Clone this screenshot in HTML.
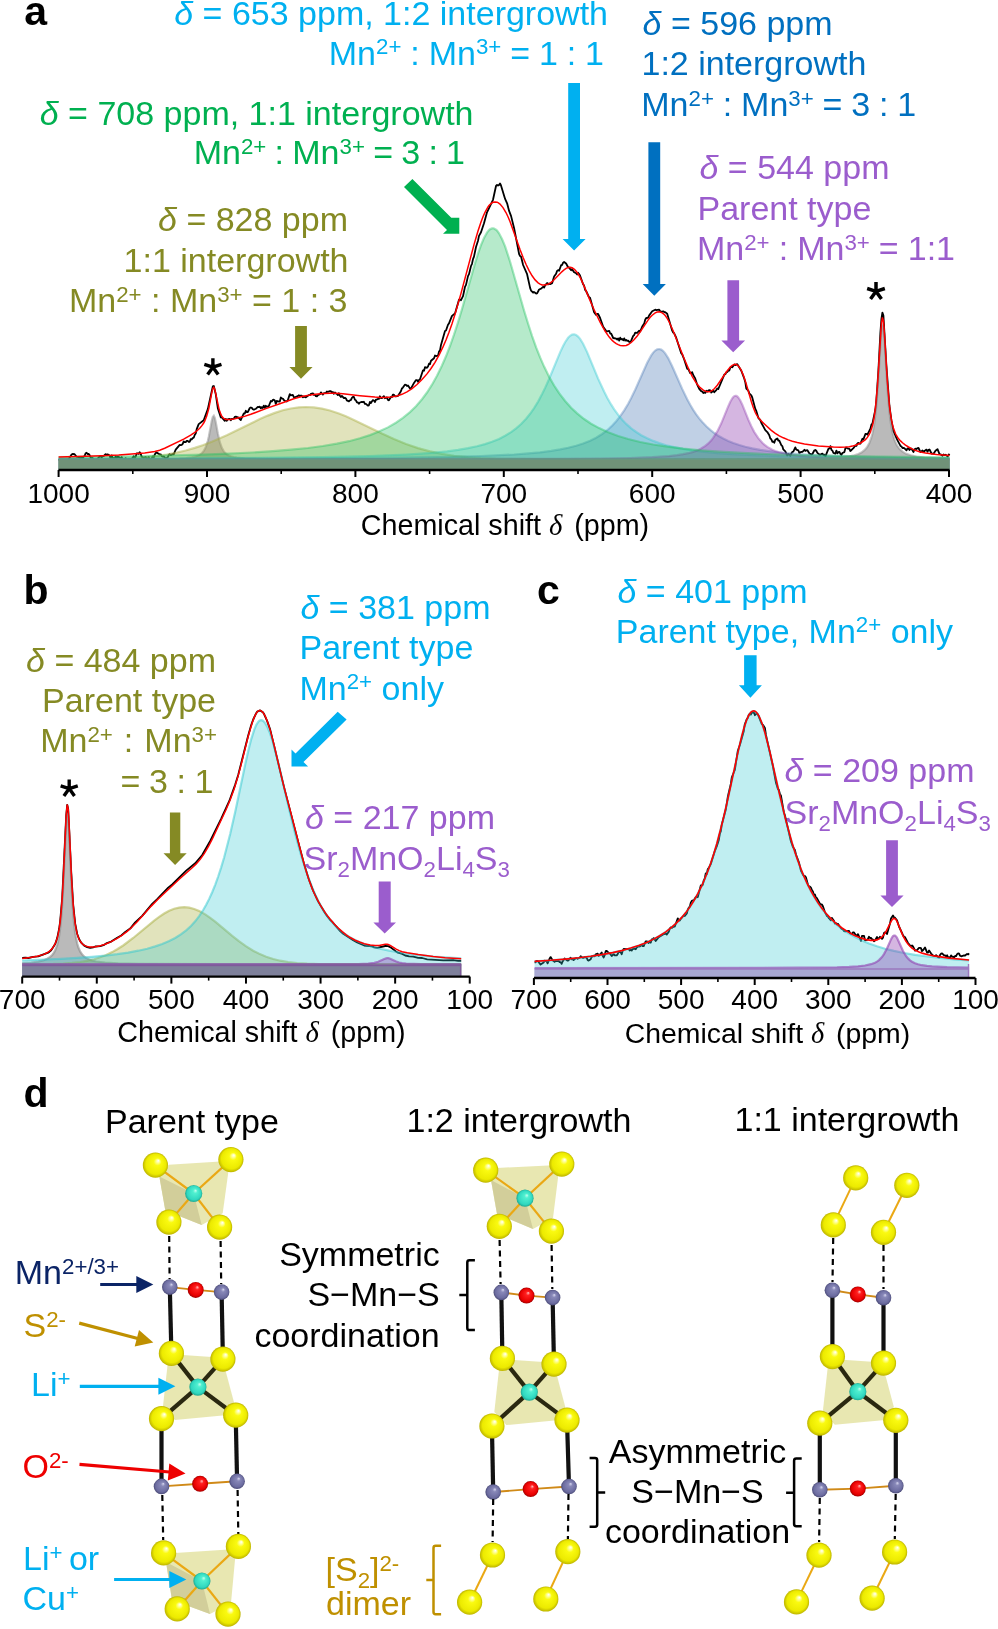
<!DOCTYPE html>
<html><head><meta charset="utf-8"><style>
html,body{margin:0;padding:0;background:#fff;}
svg{display:block;font-family:"Liberation Sans", sans-serif;will-change:transform;}
</style></head><body>
<svg width="998" height="1629" viewBox="0 0 998 1629">
<defs>
<radialGradient id="gS" cx="0.5" cy="0.5" r="0.5" fx="0.62" fy="0.32">
 <stop offset="0" stop-color="#ffffff"/><stop offset="0.12" stop-color="#ffffa0"/><stop offset="0.3" stop-color="#fafa10"/><stop offset="0.8" stop-color="#ecea00"/><stop offset="1" stop-color="#bdb400"/></radialGradient>
<radialGradient id="gLi" cx="0.5" cy="0.5" r="0.5" fx="0.62" fy="0.32">
 <stop offset="0" stop-color="#c8fff0"/><stop offset="0.25" stop-color="#50f0d0"/><stop offset="0.8" stop-color="#30d8c0"/><stop offset="1" stop-color="#20a890"/></radialGradient>
<radialGradient id="gMn" cx="0.5" cy="0.5" r="0.5" fx="0.62" fy="0.32">
 <stop offset="0" stop-color="#d8d8f0"/><stop offset="0.25" stop-color="#8888b8"/><stop offset="0.8" stop-color="#6c6ca0"/><stop offset="1" stop-color="#4c4c78"/></radialGradient>
<radialGradient id="gO" cx="0.5" cy="0.5" r="0.5" fx="0.62" fy="0.32">
 <stop offset="0" stop-color="#ffc0c0"/><stop offset="0.25" stop-color="#ff2020"/><stop offset="0.8" stop-color="#e80000"/><stop offset="1" stop-color="#a00000"/></radialGradient>
</defs>
<text x="24.2" y="24.5" font-size="41" fill="#000" text-anchor="start" font-weight="bold" ><tspan dy="-0.00">a</tspan></text>
<text x="608.0" y="24.8" font-size="34" fill="#00b0f0" text-anchor="end" font-weight="normal" ><tspan dy="-0.00" font-style="italic">δ</tspan><tspan dy="0.00"> = 653 ppm, 1:2 intergrowth</tspan></text>
<text x="604.0" y="64.6" font-size="34" fill="#00b0f0" text-anchor="end" font-weight="normal" word-spacing="-0.55"><tspan dy="-0.00">Mn</tspan><tspan dy="-10.20" font-size="22.27">2+</tspan><tspan dy="10.20"> : Mn</tspan><tspan dy="-10.20" font-size="22.27">3+</tspan><tspan dy="10.20"> = 1 : 1</tspan></text>
<text x="642.6" y="34.6" font-size="34" fill="#0070c0" text-anchor="start" font-weight="normal" ><tspan dy="-0.00" font-style="italic">δ</tspan><tspan dy="0.00"> = 596 ppm</tspan></text>
<text x="641.5" y="74.8" font-size="34" fill="#0070c0" text-anchor="start" font-weight="normal" ><tspan dy="-0.00">1:2 intergrowth</tspan></text>
<text x="641.3" y="115.8" font-size="34" fill="#0070c0" text-anchor="start" font-weight="normal" word-spacing="-0.6"><tspan dy="-0.00">Mn</tspan><tspan dy="-10.20" font-size="22.27">2+</tspan><tspan dy="10.20"> : Mn</tspan><tspan dy="-10.20" font-size="22.27">3+</tspan><tspan dy="10.20"> = 3 : 1</tspan></text>
<text x="473.5" y="124.6" font-size="34" fill="#00b050" text-anchor="end" font-weight="normal" ><tspan dy="-0.00" font-style="italic">δ</tspan><tspan dy="0.00"> = 708 ppm, 1:1 intergrowth</tspan></text>
<text x="465.0" y="163.8" font-size="34" fill="#00b050" text-anchor="end" font-weight="normal" word-spacing="-1.2"><tspan dy="-0.00">Mn</tspan><tspan dy="-10.20" font-size="22.27">2+</tspan><tspan dy="10.20"> : Mn</tspan><tspan dy="-10.20" font-size="22.27">3+</tspan><tspan dy="10.20"> = 3 : 1</tspan></text>
<text x="699.5" y="179.0" font-size="34" fill="#9b5dcd" text-anchor="start" font-weight="normal" ><tspan dy="-0.00" font-style="italic">δ</tspan><tspan dy="0.00"> = 544 ppm</tspan></text>
<text x="697.5" y="219.7" font-size="34" fill="#9b5dcd" text-anchor="start" font-weight="normal" ><tspan dy="-0.00">Parent type</tspan></text>
<text x="697.0" y="260.2" font-size="34" fill="#9b5dcd" text-anchor="start" font-weight="normal" word-spacing="-0.4"><tspan dy="-0.00">Mn</tspan><tspan dy="-10.20" font-size="22.27">2+</tspan><tspan dy="10.20"> : Mn</tspan><tspan dy="-10.20" font-size="22.27">3+</tspan><tspan dy="10.20"> = 1:1</tspan></text>
<text x="348.0" y="230.6" font-size="34" fill="#858a24" text-anchor="end" font-weight="normal" ><tspan dy="-0.00" font-style="italic">δ</tspan><tspan dy="0.00"> = 828 ppm</tspan></text>
<text x="348.5" y="271.8" font-size="34" fill="#858a24" text-anchor="end" font-weight="normal" ><tspan dy="-0.00">1:1 intergrowth</tspan></text>
<text x="347.5" y="311.7" font-size="34" fill="#858a24" text-anchor="end" font-weight="normal" ><tspan dy="-0.00">Mn</tspan><tspan dy="-10.20" font-size="22.27">2+</tspan><tspan dy="10.20"> : Mn</tspan><tspan dy="-10.20" font-size="22.27">3+</tspan><tspan dy="10.20"> = 1 : 3</tspan></text>
<polygon points="404.0,186.9 412.4,178.9 451.3,217.8 459.3,217.7 459.3,233.8 443.0,233.8 447.0,229.9" fill="#00b050" />
<polygon points="568.2,83.0 580.0,83.0 580.0,238.9 585.6,238.9 574.1,250.6 562.6,238.9 568.2,238.9" fill="#00b0f0" />
<polygon points="648.4,142.3 660.2,142.3 660.2,284.0 665.9,284.0 654.3,295.8 642.7,284.0 648.4,284.0" fill="#0070c0" />
<polygon points="727.4,280.2 739.1,280.2 739.1,340.4 745.1,340.4 733.2,352.2 721.4,340.4 727.4,340.4" fill="#9b5dcd" />
<polygon points="295.1,325.9 306.9,325.9 306.9,367.1 312.6,367.1 301.0,378.8 289.4,367.1 295.1,367.1" fill="#858a24" />
<path d="M58.6,460.1 L59.6,459.7 L61.6,461.3 L62.6,460.3 L64.6,462.5 L65.6,460.7 L66.6,461.1 L68.6,459.2 L71.6,454.5 L72.6,453.9 L74.6,454.2 L76.6,456.7 L79.6,457.5 L80.6,458.5 L81.6,457.6 L82.6,458.5 L83.6,456.7 L84.6,456.0 L85.6,453.2 L86.6,452.7 L87.6,454.1 L88.6,453.9 L89.6,455.1 L90.6,457.5 L91.6,458.5 L92.6,457.9 L93.6,460.5 L94.6,460.7 L96.6,459.9 L99.6,456.5 L100.6,456.0 L101.6,457.5 L102.6,456.3 L103.6,456.2 L105.6,454.1 L106.6,454.9 L107.6,454.4 L109.7,455.5 L110.7,459.0 L111.7,455.3 L112.7,458.6 L113.7,458.2 L114.7,458.5 L115.7,456.3 L116.7,458.7 L117.7,456.6 L119.7,457.6 L120.7,460.0 L121.7,457.1 L122.7,459.5 L123.7,460.5 L125.7,458.2 L126.7,459.9 L127.7,460.0 L128.7,459.3 L129.7,459.4 L130.7,458.9 L131.7,459.1 L133.7,456.2 L134.7,458.3 L135.7,456.6 L136.7,453.4 L137.7,453.3 L138.7,453.9 L139.7,452.3 L140.7,453.8 L141.7,456.9 L142.7,457.2 L143.7,458.2 L144.7,457.3 L145.7,457.0 L146.7,458.9 L147.7,458.9 L148.7,457.0 L149.7,459.4 L150.7,460.4 L152.7,456.4 L153.7,457.6 L154.7,454.7 L155.7,453.1 L156.7,452.5 L159.7,454.6 L160.7,454.3 L161.7,456.1 L162.7,456.6 L163.7,456.3 L165.7,458.7 L167.7,457.3 L168.7,455.1 L169.7,454.1 L170.7,455.1 L172.7,454.1 L173.7,454.3 L175.7,449.6 L179.7,444.8 L180.7,445.2 L181.7,444.9 L182.7,443.9 L183.7,441.4 L184.7,442.2 L185.7,442.2 L186.7,440.8 L187.7,440.8 L188.7,441.8 L189.7,441.8 L190.7,439.1 L191.7,439.5 L192.7,438.1 L193.7,437.7 L194.7,435.0 L195.7,433.6 L196.7,429.2 L198.7,424.1 L203.7,420.2 L207.8,409.1 L212.8,386.4 L213.8,386.0 L215.8,394.4 L217.8,408.1 L220.8,417.4 L221.8,417.3 L224.8,420.8 L225.8,418.9 L226.8,420.7 L227.8,419.4 L228.8,419.0 L229.8,418.9 L230.8,420.2 L231.8,418.9 L233.8,418.7 L234.8,416.8 L235.8,416.6 L236.8,417.3 L237.8,417.1 L240.8,420.0 L243.8,413.4 L244.8,413.5 L245.8,410.8 L246.8,412.2 L247.8,412.0 L249.8,408.0 L250.8,407.5 L251.8,407.9 L252.8,409.2 L253.8,409.7 L255.8,408.8 L257.8,406.8 L258.8,407.2 L259.8,406.6 L260.8,408.4 L261.8,407.1 L262.8,408.0 L263.8,405.7 L264.8,407.8 L265.8,405.8 L266.8,406.8 L268.8,406.1 L270.8,401.0 L271.8,401.5 L272.8,399.9 L273.8,399.7 L274.8,400.4 L275.8,403.9 L276.8,400.8 L277.8,401.4 L279.8,401.5 L280.8,397.5 L281.8,398.4 L282.8,398.6 L283.8,400.1 L284.8,400.8 L286.8,401.5 L287.8,400.3 L289.8,394.1 L290.8,395.3 L292.8,394.9 L293.8,397.1 L294.8,397.3 L297.8,396.2 L298.8,395.3 L299.8,396.1 L300.8,395.6 L301.8,395.7 L302.8,397.4 L303.8,396.5 L305.8,397.4 L307.9,395.7 L308.9,395.1 L309.9,395.2 L310.9,393.9 L312.9,393.3 L313.9,394.9 L314.9,394.6 L315.9,396.2 L316.9,396.4 L317.9,395.2 L319.9,394.2 L320.9,392.4 L322.9,394.6 L323.9,393.2 L325.9,393.1 L326.9,391.5 L327.9,391.8 L329.9,391.1 L330.9,391.2 L331.9,392.9 L332.9,392.0 L333.9,393.8 L334.9,392.5 L335.9,393.5 L336.9,393.9 L337.9,395.1 L338.9,393.3 L339.9,395.7 L340.9,397.0 L341.9,395.9 L343.9,398.2 L344.9,397.7 L345.9,398.4 L346.9,400.5 L348.9,401.4 L349.9,400.3 L350.9,400.0 L351.9,397.9 L352.9,396.9 L353.9,397.0 L354.9,399.8 L355.9,400.3 L356.9,402.3 L357.9,402.5 L358.9,403.8 L359.9,402.5 L361.9,401.8 L362.9,402.2 L363.9,401.8 L364.9,403.8 L365.9,403.8 L367.9,405.7 L368.9,405.3 L369.9,402.0 L370.9,403.0 L372.9,400.1 L373.9,400.5 L374.9,402.1 L375.9,399.6 L376.9,399.6 L377.9,398.9 L378.9,398.9 L379.9,396.3 L380.9,398.0 L381.9,398.2 L383.9,396.1 L384.9,398.2 L386.9,397.4 L387.9,400.0 L388.9,400.3 L390.9,397.0 L391.9,397.1 L392.9,394.6 L393.9,394.7 L394.9,396.0 L395.9,396.5 L397.9,396.0 L400.9,391.3 L401.9,388.5 L402.9,387.6 L404.9,384.7 L406.0,384.8 L407.0,386.0 L408.0,385.4 L410.0,388.4 L411.0,388.4 L414.0,382.9 L416.0,380.1 L417.0,380.1 L418.0,381.7 L419.0,379.9 L420.0,379.3 L423.0,370.3 L424.0,370.7 L425.0,367.2 L427.0,367.8 L428.0,366.5 L429.0,363.7 L430.0,364.1 L431.0,360.8 L434.0,358.2 L435.0,355.5 L436.0,356.1 L438.0,355.7 L439.0,351.6 L440.0,350.3 L441.0,344.9 L445.0,331.0 L446.0,330.5 L448.0,324.7 L449.0,323.4 L452.0,315.9 L455.0,313.5 L459.0,299.7 L460.0,299.6 L461.0,300.2 L463.0,296.2 L465.0,286.8 L466.0,284.9 L468.0,276.1 L469.0,274.2 L471.0,266.0 L472.0,263.8 L473.0,259.1 L474.0,256.6 L476.0,247.0 L478.0,240.8 L479.0,235.9 L481.0,232.3 L484.0,223.3 L487.0,212.3 L493.0,199.8 L496.0,186.0 L497.0,185.0 L498.0,185.6 L499.0,184.9 L500.0,183.4 L501.0,185.5 L505.1,198.9 L507.1,203.3 L509.1,210.9 L511.1,216.1 L514.1,228.2 L519.1,254.0 L520.1,256.1 L521.1,256.7 L523.1,265.0 L527.1,274.2 L530.1,287.9 L531.1,290.7 L533.1,292.7 L534.1,292.1 L536.1,293.5 L537.1,293.3 L539.1,289.5 L541.1,288.7 L543.1,286.8 L544.1,287.6 L545.1,285.3 L547.1,283.0 L548.1,284.4 L549.1,283.4 L550.1,284.2 L552.1,283.2 L554.1,276.5 L556.1,273.7 L557.1,270.9 L558.1,270.1 L559.1,270.7 L561.1,265.2 L562.1,265.0 L563.1,262.7 L564.1,262.0 L566.1,263.5 L568.1,267.2 L569.1,267.6 L571.1,270.2 L572.1,269.2 L574.1,272.3 L576.1,273.2 L577.1,274.5 L578.1,272.8 L579.1,274.0 L580.1,275.8 L583.1,284.2 L584.1,285.6 L585.1,289.8 L586.1,291.0 L589.1,297.4 L590.1,297.9 L594.1,312.3 L596.1,314.9 L597.1,313.8 L598.1,313.8 L600.1,318.0 L603.2,326.8 L606.2,331.1 L607.2,331.4 L609.2,330.9 L610.2,333.5 L611.2,333.7 L613.2,338.0 L616.2,338.7 L617.2,339.6 L618.2,338.4 L619.2,340.6 L620.2,337.7 L621.2,339.4 L622.2,339.0 L623.2,340.2 L624.2,338.4 L625.2,340.6 L626.2,339.9 L627.2,340.9 L628.2,340.7 L629.2,341.9 L630.2,342.0 L631.2,340.7 L633.2,335.9 L634.2,335.0 L635.2,332.6 L637.2,332.8 L639.2,330.7 L640.2,331.5 L642.2,326.5 L644.2,323.6 L645.2,319.7 L646.2,318.0 L647.2,318.1 L648.2,317.5 L649.2,315.4 L652.2,311.3 L655.2,309.7 L656.2,310.1 L659.2,309.7 L660.2,311.3 L662.2,311.6 L663.2,311.3 L664.2,312.0 L665.2,312.1 L667.2,313.7 L672.2,330.7 L673.2,332.6 L674.2,333.3 L676.2,337.7 L681.2,353.2 L682.2,354.4 L684.2,359.5 L687.2,368.8 L688.2,368.9 L690.2,373.2 L691.2,373.2 L692.2,372.2 L693.2,375.0 L695.2,378.4 L697.2,384.7 L699.2,388.8 L701.2,391.2 L702.3,391.6 L703.3,393.1 L704.3,392.2 L705.3,392.9 L706.3,390.8 L707.3,391.6 L708.3,390.5 L709.3,390.1 L710.3,390.4 L711.3,392.5 L713.3,390.7 L714.3,392.2 L716.3,390.1 L717.3,388.5 L718.3,389.0 L724.3,374.6 L725.3,374.2 L726.3,372.4 L727.3,372.0 L728.3,370.5 L729.3,370.5 L730.3,367.6 L731.3,367.0 L732.3,367.3 L734.3,364.4 L735.3,365.1 L737.3,364.1 L741.3,370.8 L744.3,378.8 L745.3,382.2 L746.3,388.7 L748.3,390.6 L749.3,393.4 L751.3,395.3 L752.3,397.7 L755.3,408.9 L756.3,410.9 L758.3,417.8 L760.3,420.1 L761.3,422.8 L765.3,430.1 L767.3,432.1 L769.3,435.3 L770.3,438.5 L771.3,439.2 L772.3,441.8 L773.3,441.5 L774.3,442.8 L775.3,439.8 L777.3,438.4 L778.3,440.5 L779.3,440.7 L781.3,445.2 L782.3,446.1 L783.3,449.4 L785.3,451.3 L787.3,455.5 L788.3,454.2 L789.3,454.5 L790.3,456.0 L791.3,453.4 L792.3,451.9 L793.3,451.7 L795.3,447.4 L796.3,449.6 L798.3,450.3 L799.3,452.9 L801.4,451.9 L802.4,451.8 L804.4,449.8 L805.4,450.9 L806.4,450.3 L807.4,450.2 L809.4,453.5 L811.4,454.4 L812.4,454.0 L814.4,450.3 L815.4,450.0 L816.4,451.0 L817.4,452.9 L819.4,454.5 L820.4,454.6 L822.4,453.6 L823.4,455.0 L824.4,454.7 L825.4,456.4 L828.4,448.9 L829.4,448.4 L830.4,446.1 L831.4,449.8 L832.4,450.7 L833.4,452.9 L835.4,453.6 L836.4,450.6 L837.4,453.3 L838.4,452.2 L839.4,451.9 L840.4,453.9 L841.4,454.9 L842.4,453.0 L844.4,452.1 L845.4,448.3 L846.4,447.6 L847.4,448.4 L849.4,448.9 L850.4,451.0 L853.4,448.1 L855.4,445.5 L856.4,445.9 L857.4,443.4 L858.4,442.8 L859.4,443.7 L860.4,443.6 L862.4,438.8 L863.4,439.4 L865.4,434.0 L866.4,433.8 L867.4,434.7 L870.4,428.6 L871.4,424.7 L872.4,423.6 L875.4,409.5 L876.4,400.1 L878.4,370.5 L880.4,332.6 L881.4,319.2 L882.4,312.6 L883.4,315.6 L886.4,365.9 L889.4,405.7 L891.4,420.4 L893.4,431.1 L897.4,440.1 L900.5,445.9 L901.5,446.6 L902.5,448.0 L903.5,447.8 L904.5,448.3 L906.5,450.4 L907.5,448.3 L908.5,448.4 L909.5,450.0 L910.5,448.6 L911.5,448.7 L913.5,452.0 L914.5,449.2 L915.5,448.7 L916.5,449.0 L917.5,448.1 L918.5,448.0 L920.5,452.1 L922.5,450.5 L923.5,451.8 L926.5,449.6 L927.5,451.8 L928.5,449.8 L929.5,449.5 L931.5,453.5 L933.5,453.7 L935.5,450.7 L937.5,449.1 L939.5,454.2 L940.5,454.3 L942.5,455.7 L943.5,454.5 L944.5,455.2 L945.5,454.7 L946.5,455.2 L947.5,456.5 L949.5,453.9" fill="none" stroke="#000" stroke-width="1.8" stroke-linejoin="round"/>
<path d="M58.6,459.3 L134.7,459.1 L168.7,458.8 L178.7,458.5 L185.7,458.1 L191.7,457.4 L195.7,456.4 L198.7,455.3 L201.7,453.3 L203.7,451.0 L205.7,447.2 L207.8,441.0 L208.8,436.8 L211.8,420.8 L212.8,416.9 L213.8,415.7 L214.8,417.9 L215.8,422.4 L217.8,433.4 L219.8,442.2 L221.8,447.9 L223.8,451.4 L224.8,452.6 L226.8,454.3 L228.8,455.4 L230.8,456.2 L233.8,457.0 L236.8,457.6 L244.8,458.3 L254.8,458.7 L268.8,459.0 L325.9,459.2 L949.5,459.3 L949.50,470.00 L58.60,470.00 Z" fill="#8c8c8c" fill-opacity="0.6" stroke="none"/>
<path d="M58.6,459.3 L134.7,459.1 L168.7,458.8 L178.7,458.5 L185.7,458.1 L191.7,457.4 L195.7,456.4 L198.7,455.3 L201.7,453.3 L203.7,451.0 L205.7,447.2 L207.8,441.0 L208.8,436.8 L211.8,420.8 L212.8,416.9 L213.8,415.7 L214.8,417.9 L215.8,422.4 L217.8,433.4 L219.8,442.2 L221.8,447.9 L223.8,451.4 L224.8,452.6 L226.8,454.3 L228.8,455.4 L230.8,456.2 L233.8,457.0 L236.8,457.6 L244.8,458.3 L254.8,458.7 L268.8,459.0 L325.9,459.2 L949.5,459.3" fill="none" stroke="#8c8c8c" stroke-opacity="0.5" stroke-width="2.2"/>
<path d="M58.6,459.3 L104.6,458.9 L120.7,458.5 L133.7,458.0 L145.7,457.1 L156.7,455.9 L166.7,454.5 L176.7,452.6 L185.7,450.5 L194.7,447.9 L202.7,445.2 L211.8,441.8 L226.8,435.2 L259.8,419.1 L267.8,415.6 L274.8,412.9 L282.8,410.3 L290.8,408.5 L298.8,407.3 L305.8,407.0 L313.9,407.4 L321.9,408.6 L329.9,410.5 L338.9,413.5 L345.9,416.3 L353.9,419.9 L381.9,433.6 L393.9,439.1 L406.0,444.0 L418.0,448.1 L430.0,451.4 L442.0,453.9 L454.0,455.8 L468.0,457.2 L481.0,458.1 L496.0,458.7 L536.1,459.2 L949.5,459.3 L949.50,470.00 L58.60,470.00 Z" fill="#a8ae40" fill-opacity="0.35" stroke="none"/>
<path d="M58.6,459.3 L104.6,458.9 L120.7,458.5 L133.7,458.0 L145.7,457.1 L156.7,455.9 L166.7,454.5 L176.7,452.6 L185.7,450.5 L194.7,447.9 L202.7,445.2 L211.8,441.8 L226.8,435.2 L259.8,419.1 L267.8,415.6 L274.8,412.9 L282.8,410.3 L290.8,408.5 L298.8,407.3 L305.8,407.0 L313.9,407.4 L321.9,408.6 L329.9,410.5 L338.9,413.5 L345.9,416.3 L353.9,419.9 L381.9,433.6 L393.9,439.1 L406.0,444.0 L418.0,448.1 L430.0,451.4 L442.0,453.9 L454.0,455.8 L468.0,457.2 L481.0,458.1 L496.0,458.7 L536.1,459.2 L949.5,459.3" fill="none" stroke="#a8ae40" stroke-opacity="0.45" stroke-width="2.2"/>
<path d="M58.6,459.0 L308.9,458.4 L383.9,457.9 L439.0,457.2 L481.0,456.0 L514.1,454.5 L528.1,453.4 L540.1,452.3 L551.1,450.9 L560.1,449.4 L568.1,447.8 L576.1,445.7 L583.1,443.5 L590.1,440.7 L596.1,437.7 L602.1,434.0 L607.2,430.2 L612.2,425.6 L616.2,421.3 L620.2,416.2 L624.2,410.4 L628.2,403.7 L631.2,398.0 L635.2,389.7 L647.2,362.8 L651.2,355.4 L653.2,352.6 L655.2,350.5 L657.2,349.3 L659.2,349.0 L661.2,349.6 L663.2,351.1 L665.2,353.4 L668.2,358.1 L672.2,366.2 L682.2,388.9 L687.2,399.2 L690.2,404.7 L693.2,409.8 L696.2,414.3 L699.2,418.4 L702.3,422.0 L706.3,426.2 L710.3,429.8 L714.3,433.0 L718.3,435.7 L723.3,438.5 L728.3,440.9 L733.3,443.0 L739.3,445.0 L745.3,446.7 L752.3,448.4 L760.3,449.9 L769.3,451.2 L778.3,452.3 L799.3,454.2 L825.4,455.6 L857.4,456.7 L897.4,457.5 L949.5,458.1 L949.50,470.00 L58.60,470.00 Z" fill="#4070b0" fill-opacity="0.33" stroke="none"/>
<path d="M58.6,459.0 L308.9,458.4 L383.9,457.9 L439.0,457.2 L481.0,456.0 L514.1,454.5 L528.1,453.4 L540.1,452.3 L551.1,450.9 L560.1,449.4 L568.1,447.8 L576.1,445.7 L583.1,443.5 L590.1,440.7 L596.1,437.7 L602.1,434.0 L607.2,430.2 L612.2,425.6 L616.2,421.3 L620.2,416.2 L624.2,410.4 L628.2,403.7 L631.2,398.0 L635.2,389.7 L647.2,362.8 L651.2,355.4 L653.2,352.6 L655.2,350.5 L657.2,349.3 L659.2,349.0 L661.2,349.6 L663.2,351.1 L665.2,353.4 L668.2,358.1 L672.2,366.2 L682.2,388.9 L687.2,399.2 L690.2,404.7 L693.2,409.8 L696.2,414.3 L699.2,418.4 L702.3,422.0 L706.3,426.2 L710.3,429.8 L714.3,433.0 L718.3,435.7 L723.3,438.5 L728.3,440.9 L733.3,443.0 L739.3,445.0 L745.3,446.7 L752.3,448.4 L760.3,449.9 L769.3,451.2 L778.3,452.3 L799.3,454.2 L825.4,455.6 L857.4,456.7 L897.4,457.5 L949.5,458.1" fill="none" stroke="#4070b0" stroke-opacity="0.35" stroke-width="2.2"/>
<path d="M58.6,458.8 L174.7,458.5 L258.8,457.9 L321.9,457.2 L368.9,456.1 L406.0,454.6 L421.0,453.7 L435.0,452.6 L447.0,451.4 L458.0,449.9 L468.0,448.2 L477.0,446.3 L485.0,444.1 L492.0,441.8 L499.0,438.9 L505.1,435.8 L511.1,432.1 L516.1,428.4 L521.1,424.0 L526.1,418.8 L530.1,413.8 L534.1,408.1 L538.1,401.6 L542.1,394.1 L545.1,387.9 L549.1,379.0 L560.1,352.4 L563.1,346.0 L565.1,342.2 L568.1,337.8 L570.1,335.8 L572.1,334.6 L574.1,334.3 L576.1,335.0 L578.1,336.5 L580.1,338.9 L583.1,343.7 L587.1,352.1 L598.1,378.6 L604.2,391.8 L607.2,397.7 L611.2,404.7 L614.2,409.4 L618.2,414.9 L622.2,419.7 L626.2,423.9 L631.2,428.3 L636.2,432.0 L641.2,435.2 L647.2,438.3 L653.2,440.9 L659.2,443.1 L666.2,445.2 L674.2,447.1 L683.2,448.9 L692.2,450.3 L702.3,451.6 L714.3,452.8 L727.3,453.8 L742.3,454.7 L776.3,456.1 L819.4,457.1 L875.4,457.8 L949.5,458.3 L949.50,470.00 L58.60,470.00 Z" fill="#30c8d0" fill-opacity="0.3" stroke="none"/>
<path d="M58.6,458.8 L174.7,458.5 L258.8,457.9 L321.9,457.2 L368.9,456.1 L406.0,454.6 L421.0,453.7 L435.0,452.6 L447.0,451.4 L458.0,449.9 L468.0,448.2 L477.0,446.3 L485.0,444.1 L492.0,441.8 L499.0,438.9 L505.1,435.8 L511.1,432.1 L516.1,428.4 L521.1,424.0 L526.1,418.8 L530.1,413.8 L534.1,408.1 L538.1,401.6 L542.1,394.1 L545.1,387.9 L549.1,379.0 L560.1,352.4 L563.1,346.0 L565.1,342.2 L568.1,337.8 L570.1,335.8 L572.1,334.6 L574.1,334.3 L576.1,335.0 L578.1,336.5 L580.1,338.9 L583.1,343.7 L587.1,352.1 L598.1,378.6 L604.2,391.8 L607.2,397.7 L611.2,404.7 L614.2,409.4 L618.2,414.9 L622.2,419.7 L626.2,423.9 L631.2,428.3 L636.2,432.0 L641.2,435.2 L647.2,438.3 L653.2,440.9 L659.2,443.1 L666.2,445.2 L674.2,447.1 L683.2,448.9 L692.2,450.3 L702.3,451.6 L714.3,452.8 L727.3,453.8 L742.3,454.7 L776.3,456.1 L819.4,457.1 L875.4,457.8 L949.5,458.3" fill="none" stroke="#30c8d0" stroke-opacity="0.4" stroke-width="2.2"/>
<path d="M58.6,459.3 L411.0,459.2 L557.1,458.8 L600.1,458.5 L630.2,458.0 L652.2,457.2 L669.2,456.1 L677.2,455.2 L683.2,454.2 L688.2,453.2 L693.2,451.9 L697.2,450.4 L701.2,448.5 L705.3,445.9 L708.3,443.4 L711.3,440.3 L713.3,437.7 L717.3,431.4 L721.3,423.3 L728.3,406.2 L730.3,401.8 L732.3,398.3 L733.3,397.0 L734.3,396.2 L735.3,395.8 L736.3,395.9 L737.3,396.5 L738.3,397.4 L740.3,400.5 L742.3,404.7 L748.3,419.6 L751.3,426.3 L754.3,432.1 L758.3,438.2 L762.3,442.8 L764.3,444.6 L767.3,446.9 L772.3,449.7 L775.3,451.0 L779.3,452.3 L787.3,454.1 L797.3,455.6 L809.4,456.6 L825.4,457.5 L845.4,458.1 L870.4,458.5 L949.5,459.0 L949.50,470.00 L58.60,470.00 Z" fill="#9040b0" fill-opacity="0.38" stroke="none"/>
<path d="M58.6,459.3 L411.0,459.2 L557.1,458.8 L600.1,458.5 L630.2,458.0 L652.2,457.2 L669.2,456.1 L677.2,455.2 L683.2,454.2 L688.2,453.2 L693.2,451.9 L697.2,450.4 L701.2,448.5 L705.3,445.9 L708.3,443.4 L711.3,440.3 L713.3,437.7 L717.3,431.4 L721.3,423.3 L728.3,406.2 L730.3,401.8 L732.3,398.3 L733.3,397.0 L734.3,396.2 L735.3,395.8 L736.3,395.9 L737.3,396.5 L738.3,397.4 L740.3,400.5 L742.3,404.7 L748.3,419.6 L751.3,426.3 L754.3,432.1 L758.3,438.2 L762.3,442.8 L764.3,444.6 L767.3,446.9 L772.3,449.7 L775.3,451.0 L779.3,452.3 L787.3,454.1 L797.3,455.6 L809.4,456.6 L825.4,457.5 L845.4,458.1 L870.4,458.5 L949.5,459.0" fill="none" stroke="#9040b0" stroke-opacity="0.4" stroke-width="2.2"/>
<path d="M58.6,459.3 L606.2,459.3 L761.3,459.1 L799.3,458.8 L823.4,458.4 L838.4,457.7 L844.4,457.1 L849.4,456.4 L854.4,455.4 L858.4,454.0 L861.4,452.5 L864.4,450.2 L866.4,448.0 L867.4,446.6 L869.4,443.0 L871.4,437.5 L872.4,433.8 L874.4,423.1 L876.4,405.8 L878.4,378.9 L881.4,330.2 L882.4,323.5 L883.4,326.9 L884.4,339.2 L887.4,389.0 L889.4,412.4 L890.4,420.7 L892.4,432.3 L894.4,439.6 L896.4,444.4 L897.4,446.1 L899.4,448.8 L902.5,451.6 L904.5,452.9 L906.5,453.9 L910.5,455.3 L916.5,456.5 L924.5,457.5 L935.5,458.2 L949.5,458.6 L949.50,470.00 L58.60,470.00 Z" fill="#8c8c8c" fill-opacity="0.6" stroke="none"/>
<path d="M58.6,459.3 L606.2,459.3 L761.3,459.1 L799.3,458.8 L823.4,458.4 L838.4,457.7 L844.4,457.1 L849.4,456.4 L854.4,455.4 L858.4,454.0 L861.4,452.5 L864.4,450.2 L866.4,448.0 L867.4,446.6 L869.4,443.0 L871.4,437.5 L872.4,433.8 L874.4,423.1 L876.4,405.8 L878.4,378.9 L881.4,330.2 L882.4,323.5 L883.4,326.9 L884.4,339.2 L887.4,389.0 L889.4,412.4 L890.4,420.7 L892.4,432.3 L894.4,439.6 L896.4,444.4 L897.4,446.1 L899.4,448.8 L902.5,451.6 L904.5,452.9 L906.5,453.9 L910.5,455.3 L916.5,456.5 L924.5,457.5 L935.5,458.2 L949.5,458.6" fill="none" stroke="#8c8c8c" stroke-opacity="0.5" stroke-width="2.2"/>
<path d="M58.6,457.2 L139.7,456.1 L202.7,454.6 L228.8,453.6 L251.8,452.5 L272.8,451.2 L290.8,449.7 L307.9,448.0 L322.9,446.0 L336.9,443.7 L348.9,441.2 L359.9,438.3 L369.9,435.1 L378.9,431.6 L387.9,427.4 L395.9,422.7 L402.9,417.9 L410.0,412.1 L416.0,406.2 L422.0,399.2 L427.0,392.5 L432.0,384.7 L437.0,375.8 L442.0,365.5 L446.0,356.3 L450.0,346.0 L454.0,334.7 L458.0,322.3 L462.0,309.1 L475.0,263.4 L478.0,253.7 L481.0,245.1 L484.0,238.0 L487.0,232.6 L489.0,230.1 L490.0,229.3 L492.0,228.4 L493.0,228.3 L494.0,228.5 L496.0,229.7 L497.0,230.6 L499.0,233.3 L502.0,239.0 L505.1,246.4 L510.1,261.7 L524.1,310.7 L528.1,323.8 L532.1,336.1 L536.1,347.3 L540.1,357.4 L544.1,366.6 L549.1,376.7 L554.1,385.5 L559.1,393.2 L565.1,401.0 L571.1,407.7 L577.1,413.4 L584.1,419.0 L591.1,423.7 L599.1,428.1 L608.2,432.3 L618.2,436.0 L628.2,439.0 L640.2,442.0 L653.2,444.5 L667.2,446.6 L683.2,448.6 L701.2,450.3 L720.3,451.7 L742.3,452.9 L766.3,454.0 L794.3,454.9 L861.4,456.3 L949.5,457.4 L949.50,470.00 L58.60,470.00 Z" fill="#20c060" fill-opacity="0.33" stroke="none"/>
<path d="M58.6,457.2 L139.7,456.1 L202.7,454.6 L228.8,453.6 L251.8,452.5 L272.8,451.2 L290.8,449.7 L307.9,448.0 L322.9,446.0 L336.9,443.7 L348.9,441.2 L359.9,438.3 L369.9,435.1 L378.9,431.6 L387.9,427.4 L395.9,422.7 L402.9,417.9 L410.0,412.1 L416.0,406.2 L422.0,399.2 L427.0,392.5 L432.0,384.7 L437.0,375.8 L442.0,365.5 L446.0,356.3 L450.0,346.0 L454.0,334.7 L458.0,322.3 L462.0,309.1 L475.0,263.4 L478.0,253.7 L481.0,245.1 L484.0,238.0 L487.0,232.6 L489.0,230.1 L490.0,229.3 L492.0,228.4 L493.0,228.3 L494.0,228.5 L496.0,229.7 L497.0,230.6 L499.0,233.3 L502.0,239.0 L505.1,246.4 L510.1,261.7 L524.1,310.7 L528.1,323.8 L532.1,336.1 L536.1,347.3 L540.1,357.4 L544.1,366.6 L549.1,376.7 L554.1,385.5 L559.1,393.2 L565.1,401.0 L571.1,407.7 L577.1,413.4 L584.1,419.0 L591.1,423.7 L599.1,428.1 L608.2,432.3 L618.2,436.0 L628.2,439.0 L640.2,442.0 L653.2,444.5 L667.2,446.6 L683.2,448.6 L701.2,450.3 L720.3,451.7 L742.3,452.9 L766.3,454.0 L794.3,454.9 L861.4,456.3 L949.5,457.4" fill="none" stroke="#20c060" stroke-opacity="0.4" stroke-width="2.2"/>
<rect x="58.60" y="459.80" width="890.90" height="10.20" fill="#709278"/>
<path d="M58.6,457.0 L102.6,455.8 L118.7,455.1 L131.7,454.1 L144.7,452.9 L154.7,451.4 L159.7,450.3 L164.7,448.3 L183.7,439.1 L190.7,435.2 L193.7,433.2 L196.7,431.0 L199.7,428.2 L201.7,425.9 L203.7,423.0 L204.7,421.2 L206.7,416.1 L208.8,408.5 L211.8,392.6 L212.8,388.6 L213.8,387.4 L214.8,389.3 L218.8,408.1 L219.8,411.6 L220.8,414.2 L221.8,416.1 L222.8,417.5 L223.8,418.4 L225.8,419.4 L227.8,419.6 L230.8,419.5 L234.8,418.8 L243.8,416.6 L250.8,414.3 L265.8,408.6 L279.8,403.8 L293.8,398.8 L301.8,396.6 L311.9,394.7 L317.9,393.9 L323.9,393.4 L329.9,393.2 L335.9,393.3 L342.9,393.8 L359.9,395.7 L374.9,397.1 L379.9,397.4 L384.9,397.4 L390.9,397.0 L396.9,395.9 L401.9,394.3 L407.0,391.8 L412.0,388.6 L417.0,384.5 L422.0,379.6 L427.0,373.9 L431.0,368.5 L435.0,362.3 L439.0,355.1 L443.0,346.9 L446.0,340.0 L449.0,332.3 L452.0,323.8 L455.0,314.3 L461.0,293.4 L474.0,244.6 L478.0,231.1 L481.0,222.1 L483.0,216.8 L485.0,212.3 L488.0,206.9 L489.0,205.6 L491.0,203.5 L493.0,202.3 L495.0,201.9 L497.0,202.2 L498.0,202.7 L500.0,204.1 L503.0,207.6 L506.1,212.8 L508.1,217.0 L510.1,221.8 L520.1,249.7 L523.1,257.5 L526.1,264.5 L529.1,270.6 L532.1,275.8 L535.1,279.9 L538.1,282.8 L540.1,284.1 L542.1,284.9 L544.1,285.1 L547.1,284.6 L550.1,283.1 L553.1,280.8 L562.1,271.6 L564.1,269.8 L566.1,268.4 L568.1,267.6 L570.1,267.3 L572.1,267.8 L574.1,269.1 L575.1,270.0 L577.1,272.4 L579.1,275.6 L581.1,279.4 L584.1,286.1 L590.1,300.6 L594.1,309.7 L600.1,322.2 L605.2,331.3 L609.2,337.1 L612.2,340.4 L614.2,342.2 L616.2,343.6 L618.2,344.6 L620.2,345.4 L623.2,345.8 L626.2,345.4 L628.2,344.5 L631.2,342.5 L634.2,339.6 L637.2,336.0 L640.2,331.9 L648.2,319.9 L650.2,317.3 L652.2,315.2 L655.2,312.9 L657.2,312.0 L659.2,311.8 L660.2,312.0 L662.2,312.8 L664.2,314.4 L665.2,315.5 L667.2,318.4 L669.2,322.0 L673.2,331.0 L684.2,358.8 L689.2,370.3 L692.2,376.3 L695.2,381.4 L697.2,384.2 L700.2,387.7 L703.3,390.2 L706.3,391.6 L708.3,391.8 L709.3,391.7 L710.3,391.4 L712.3,390.4 L714.3,388.7 L717.3,385.2 L726.3,372.0 L730.3,367.1 L732.3,365.3 L734.3,364.4 L735.3,364.3 L736.3,364.5 L737.3,365.1 L738.3,365.9 L740.3,368.6 L741.3,370.5 L743.3,375.1 L746.3,384.1 L751.3,401.5 L753.3,407.6 L755.3,412.5 L756.3,414.5 L758.3,417.6 L761.3,421.1 L766.3,425.8 L771.3,430.3 L775.3,433.3 L779.3,435.8 L783.3,437.8 L788.3,439.9 L792.3,441.2 L797.3,442.5 L804.4,443.9 L818.4,445.9 L833.4,447.0 L840.4,447.2 L845.4,447.1 L849.4,446.7 L852.4,446.1 L855.4,445.2 L858.4,444.0 L861.4,442.5 L863.4,441.2 L865.4,439.6 L867.4,437.4 L869.4,434.2 L870.4,432.0 L872.4,425.8 L873.4,421.3 L874.4,415.6 L875.4,408.2 L877.4,386.9 L881.4,324.2 L882.4,317.4 L883.4,320.8 L884.4,333.0 L887.4,382.2 L889.4,405.1 L890.4,413.1 L891.4,419.3 L892.4,424.2 L893.4,428.0 L895.4,433.5 L896.4,435.5 L898.4,438.6 L900.5,440.9 L902.5,442.8 L905.5,445.1 L908.5,447.0 L911.5,448.7 L914.5,450.1 L919.5,451.8 L925.5,452.9 L936.5,454.4 L949.5,455.6" fill="none" stroke="#ff0000" stroke-width="1.5"/>
<line x1="58.60" y1="470.00" x2="949.50" y2="470.00" stroke="#000" stroke-width="2.4"/>
<line x1="58.60" y1="470.00" x2="58.60" y2="477.00" stroke="#000" stroke-width="2"/>
<text x="58.6" y="502.5" font-size="28" fill="#000" text-anchor="middle" font-weight="normal" ><tspan dy="-0.00">1000</tspan></text>
<line x1="207.00" y1="470.00" x2="207.00" y2="477.00" stroke="#000" stroke-width="2"/>
<text x="207.0" y="502.5" font-size="28" fill="#000" text-anchor="middle" font-weight="normal" ><tspan dy="-0.00">900</tspan></text>
<line x1="355.40" y1="470.00" x2="355.40" y2="477.00" stroke="#000" stroke-width="2"/>
<text x="355.4" y="502.5" font-size="28" fill="#000" text-anchor="middle" font-weight="normal" ><tspan dy="-0.00">800</tspan></text>
<line x1="503.80" y1="470.00" x2="503.80" y2="477.00" stroke="#000" stroke-width="2"/>
<text x="503.8" y="502.5" font-size="28" fill="#000" text-anchor="middle" font-weight="normal" ><tspan dy="-0.00">700</tspan></text>
<line x1="652.20" y1="470.00" x2="652.20" y2="477.00" stroke="#000" stroke-width="2"/>
<text x="652.2" y="502.5" font-size="28" fill="#000" text-anchor="middle" font-weight="normal" ><tspan dy="-0.00">600</tspan></text>
<line x1="800.60" y1="470.00" x2="800.60" y2="477.00" stroke="#000" stroke-width="2"/>
<text x="800.6" y="502.5" font-size="28" fill="#000" text-anchor="middle" font-weight="normal" ><tspan dy="-0.00">500</tspan></text>
<line x1="949.00" y1="470.00" x2="949.00" y2="477.00" stroke="#000" stroke-width="2"/>
<text x="949.0" y="502.5" font-size="28" fill="#000" text-anchor="middle" font-weight="normal" ><tspan dy="-0.00">400</tspan></text>
<line x1="132.80" y1="470.00" x2="132.80" y2="474.00" stroke="#000" stroke-width="1.6"/>
<line x1="281.20" y1="470.00" x2="281.20" y2="474.00" stroke="#000" stroke-width="1.6"/>
<line x1="429.60" y1="470.00" x2="429.60" y2="474.00" stroke="#000" stroke-width="1.6"/>
<line x1="578.00" y1="470.00" x2="578.00" y2="474.00" stroke="#000" stroke-width="1.6"/>
<line x1="726.40" y1="470.00" x2="726.40" y2="474.00" stroke="#000" stroke-width="1.6"/>
<line x1="874.80" y1="470.00" x2="874.80" y2="474.00" stroke="#000" stroke-width="1.6"/>
<text x="505.0" y="534.5" font-size="28.7" fill="#000" text-anchor="middle" font-weight="normal" ><tspan dy="-0.00">Chemical shift </tspan><tspan dy="0.00" font-style="italic" font-family="'Liberation Serif', serif">δ</tspan><tspan dx="4.00" dy="0.00"> (ppm)</tspan></text>
<path d="M212.90,367.20 L212.90,358.20 M212.90,367.20 L221.46,364.42 M212.90,367.20 L218.19,374.48 M212.90,367.20 L207.61,374.48 M212.90,367.20 L204.34,364.42" stroke="#000" stroke-width="3.4" fill="none" stroke-linecap="butt"/>
<path d="M876.00,291.40 L876.00,282.10 M876.00,291.40 L884.84,288.53 M876.00,291.40 L881.47,298.92 M876.00,291.40 L870.53,298.92 M876.00,291.40 L867.16,288.53" stroke="#000" stroke-width="3.5" fill="none" stroke-linecap="butt"/>
<text x="23.5" y="603.5" font-size="41" fill="#000" text-anchor="start" font-weight="bold" ><tspan dy="-0.00">b</tspan></text>
<text x="216.0" y="671.6" font-size="34" fill="#858a24" text-anchor="end" font-weight="normal" ><tspan dy="-0.00" font-style="italic">δ</tspan><tspan dy="0.00"> = 484 ppm</tspan></text>
<text x="216.0" y="712.0" font-size="34" fill="#858a24" text-anchor="end" font-weight="normal" ><tspan dy="-0.00">Parent type</tspan></text>
<text x="217.0" y="752.4" font-size="34" fill="#858a24" text-anchor="end" font-weight="normal" word-spacing="1.6"><tspan dy="-0.00">Mn</tspan><tspan dy="-10.20" font-size="22.27">2+</tspan><tspan dy="10.20"> : Mn</tspan><tspan dy="-10.20" font-size="22.27">3+</tspan></text>
<text x="213.5" y="792.8" font-size="34" fill="#858a24" text-anchor="end" font-weight="normal" word-spacing="-0.8"><tspan dy="-0.00">= 3 : 1</tspan></text>
<text x="300.5" y="618.5" font-size="34" fill="#00b0f0" text-anchor="start" font-weight="normal" ><tspan dy="-0.00" font-style="italic">δ</tspan><tspan dy="0.00"> = 381 ppm</tspan></text>
<text x="299.5" y="658.9" font-size="34" fill="#00b0f0" text-anchor="start" font-weight="normal" ><tspan dy="-0.00">Parent type</tspan></text>
<text x="299.5" y="699.5" font-size="34" fill="#00b0f0" text-anchor="start" font-weight="normal" ><tspan dy="-0.00">Mn</tspan><tspan dy="-10.20" font-size="22.27">2+</tspan><tspan dy="10.20"> only</tspan></text>
<text x="305.0" y="829.2" font-size="34" fill="#9b5dcd" text-anchor="start" font-weight="normal" ><tspan dy="-0.00" font-style="italic">δ</tspan><tspan dy="0.00"> = 217 ppm</tspan></text>
<text x="303.5" y="869.5" font-size="34" fill="#9b5dcd" text-anchor="start" font-weight="normal" ><tspan dy="-0.00">Sr</tspan><tspan dy="7.48" font-size="22.27">2</tspan><tspan dy="-7.48">MnO</tspan><tspan dy="7.48" font-size="22.27">2</tspan><tspan dy="-7.48">Li</tspan><tspan dy="7.48" font-size="22.27">4</tspan><tspan dy="-7.48">S</tspan><tspan dy="7.48" font-size="22.27">3</tspan></text>
<polygon points="169.9,812.4 180.3,812.4 180.3,853.2 186.7,853.2 175.1,864.9 163.5,853.2 169.9,853.2" fill="#858a24" />
<polygon points="337.7,711.8 346.6,719.5 303.5,762.0 308.1,766.4 291.5,766.4 291.5,749.5 295.5,753.5" fill="#00b0f0" />
<polygon points="378.7,881.5 390.7,881.5 390.7,922.5 396.0,922.5 384.7,933.4 373.4,922.5 378.7,922.5" fill="#9b5dcd" />
<path d="M69.20,788.60 L69.20,779.60 M69.20,788.60 L77.76,785.82 M69.20,788.60 L74.49,795.88 M69.20,788.60 L63.91,795.88 M69.20,788.60 L60.64,785.82" stroke="#000" stroke-width="3.4" fill="none" stroke-linecap="butt"/>
<path d="M22.2,957.9 L25.2,957.7 L28.2,958.0 L33.2,956.8 L38.2,956.4 L48.2,952.7 L51.2,950.2 L55.2,944.1 L57.2,938.1 L59.2,928.5 L60.2,920.8 L62.2,897.9 L66.2,815.6 L67.2,804.8 L68.2,809.3 L71.2,871.6 L73.2,904.8 L75.2,923.7 L77.2,934.0 L79.2,939.3 L81.2,942.7 L84.2,945.6 L87.2,947.1 L90.2,947.9 L93.2,947.3 L95.2,946.5 L100.2,946.2 L104.2,944.8 L106.2,943.4 L111.2,941.6 L117.2,937.7 L121.2,935.5 L124.2,932.8 L130.2,928.6 L135.2,922.4 L142.2,915.8 L152.2,903.8 L157.2,899.2 L168.2,887.7 L172.2,884.5 L186.2,870.6 L195.2,863.3 L202.2,855.0 L210.2,841.0 L221.2,818.6 L229.2,801.2 L235.2,784.6 L238.2,774.9 L248.2,735.5 L251.2,725.1 L253.2,719.5 L256.2,713.2 L257.2,711.7 L260.2,710.4 L263.2,712.6 L264.2,714.3 L267.2,721.1 L270.2,729.6 L284.2,787.9 L298.2,842.0 L304.2,864.4 L309.2,880.4 L313.2,890.9 L318.2,901.6 L324.2,911.7 L327.2,916.3 L330.2,920.0 L332.2,921.9 L340.2,931.1 L343.2,933.7 L353.2,940.3 L357.2,942.5 L364.2,945.5 L372.2,946.4 L374.2,947.4 L377.2,947.8 L385.2,946.0 L388.2,946.1 L391.2,947.7 L397.2,952.4 L402.2,953.9 L405.2,955.5 L409.2,956.4 L413.2,956.7 L418.2,957.9 L422.2,958.0 L427.2,959.3 L443.2,960.4 L453.2,960.1 L458.2,960.8 L461.2,960.8" fill="none" stroke="#000" stroke-width="1.8" stroke-linejoin="round"/>
<path d="M22.2,963.1 L31.2,962.5 L38.2,961.6 L43.2,960.4 L47.2,958.8 L50.2,956.9 L52.2,955.0 L53.2,953.8 L55.2,950.4 L57.2,945.1 L58.2,941.1 L59.2,935.7 L60.2,928.4 L61.2,918.5 L62.2,905.3 L63.2,888.2 L66.2,823.2 L67.2,812.5 L68.2,817.3 L69.2,835.0 L71.2,880.2 L72.2,899.0 L73.2,913.7 L74.2,924.8 L75.2,933.1 L76.2,939.1 L77.2,943.6 L78.2,947.0 L80.2,951.6 L82.2,954.6 L84.2,956.6 L86.2,958.1 L89.2,959.6 L92.2,960.6 L96.2,961.5 L105.2,962.6 L118.2,963.3 L139.2,963.8 L218.2,964.1 L461.2,964.2 L461.20,976.60 L22.20,976.60 Z" fill="#8c8c8c" fill-opacity="0.6" stroke="none"/>
<path d="M22.2,963.1 L31.2,962.5 L38.2,961.6 L43.2,960.4 L47.2,958.8 L50.2,956.9 L52.2,955.0 L53.2,953.8 L55.2,950.4 L57.2,945.1 L58.2,941.1 L59.2,935.7 L60.2,928.4 L61.2,918.5 L62.2,905.3 L63.2,888.2 L66.2,823.2 L67.2,812.5 L68.2,817.3 L69.2,835.0 L71.2,880.2 L72.2,899.0 L73.2,913.7 L74.2,924.8 L75.2,933.1 L76.2,939.1 L77.2,943.6 L78.2,947.0 L80.2,951.6 L82.2,954.6 L84.2,956.6 L86.2,958.1 L89.2,959.6 L92.2,960.6 L96.2,961.5 L105.2,962.6 L118.2,963.3 L139.2,963.8 L218.2,964.1 L461.2,964.2" fill="none" stroke="#8c8c8c" stroke-opacity="0.6" stroke-width="2.2"/>
<path d="M22.2,964.2 L53.2,963.9 L63.2,963.5 L72.2,962.9 L80.2,962.0 L87.2,960.8 L94.2,959.2 L100.2,957.3 L106.2,955.0 L112.2,952.1 L117.2,949.3 L123.2,945.5 L133.2,938.0 L154.2,920.6 L159.2,916.8 L164.2,913.5 L169.2,910.8 L174.2,908.8 L179.2,907.6 L184.2,907.2 L189.2,907.7 L194.2,909.0 L199.2,911.0 L205.2,914.4 L210.2,917.8 L215.2,921.7 L232.2,935.9 L239.2,941.4 L246.2,946.4 L253.2,950.7 L259.2,953.8 L266.2,956.7 L273.2,959.0 L280.2,960.7 L288.2,962.0 L297.2,963.0 L307.2,963.6 L319.2,964.0 L348.2,964.2 L461.2,964.2 L461.20,976.60 L22.20,976.60 Z" fill="#a8ae40" fill-opacity="0.35" stroke="none"/>
<path d="M22.2,964.2 L53.2,963.9 L63.2,963.5 L72.2,962.9 L80.2,962.0 L87.2,960.8 L94.2,959.2 L100.2,957.3 L106.2,955.0 L112.2,952.1 L117.2,949.3 L123.2,945.5 L133.2,938.0 L154.2,920.6 L159.2,916.8 L164.2,913.5 L169.2,910.8 L174.2,908.8 L179.2,907.6 L184.2,907.2 L189.2,907.7 L194.2,909.0 L199.2,911.0 L205.2,914.4 L210.2,917.8 L215.2,921.7 L232.2,935.9 L239.2,941.4 L246.2,946.4 L253.2,950.7 L259.2,953.8 L266.2,956.7 L273.2,959.0 L280.2,960.7 L288.2,962.0 L297.2,963.0 L307.2,963.6 L319.2,964.0 L348.2,964.2 L461.2,964.2" fill="none" stroke="#a8ae40" stroke-opacity="0.5" stroke-width="2.2"/>
<path d="M22.2,960.5 L61.2,958.9 L77.2,957.9 L92.2,956.8 L105.2,955.6 L117.2,954.2 L128.2,952.6 L138.2,950.7 L147.2,948.7 L155.2,946.4 L162.2,944.0 L169.2,941.1 L175.2,938.0 L181.2,934.2 L186.2,930.4 L191.2,925.8 L195.2,921.3 L199.2,916.1 L203.2,910.0 L206.2,904.8 L209.2,898.9 L212.2,892.2 L215.2,884.8 L218.2,876.5 L221.2,867.3 L224.2,857.2 L230.2,834.1 L235.2,812.1 L246.2,759.9 L249.2,747.0 L251.2,739.3 L254.2,729.8 L256.2,725.1 L258.2,721.9 L259.2,720.9 L260.2,720.3 L261.2,720.2 L262.2,720.4 L263.2,721.0 L264.2,721.9 L265.2,723.2 L267.2,726.6 L270.2,733.8 L273.2,743.2 L278.2,762.3 L289.2,809.5 L295.2,833.9 L301.2,855.6 L307.2,874.3 L312.2,887.5 L315.2,894.4 L318.2,900.7 L321.2,906.3 L324.2,911.4 L327.2,915.9 L331.2,921.1 L335.2,925.6 L339.2,929.5 L344.2,933.5 L349.2,936.8 L354.2,939.6 L360.2,942.4 L366.2,944.7 L373.2,946.9 L381.2,949.0 L389.2,950.7 L399.2,952.5 L409.2,953.9 L420.2,955.2 L433.2,956.5 L461.2,958.4 L461.20,976.60 L22.20,976.60 Z" fill="#30c8d0" fill-opacity="0.3" stroke="none"/>
<path d="M22.2,960.5 L61.2,958.9 L77.2,957.9 L92.2,956.8 L105.2,955.6 L117.2,954.2 L128.2,952.6 L138.2,950.7 L147.2,948.7 L155.2,946.4 L162.2,944.0 L169.2,941.1 L175.2,938.0 L181.2,934.2 L186.2,930.4 L191.2,925.8 L195.2,921.3 L199.2,916.1 L203.2,910.0 L206.2,904.8 L209.2,898.9 L212.2,892.2 L215.2,884.8 L218.2,876.5 L221.2,867.3 L224.2,857.2 L230.2,834.1 L235.2,812.1 L246.2,759.9 L249.2,747.0 L251.2,739.3 L254.2,729.8 L256.2,725.1 L258.2,721.9 L259.2,720.9 L260.2,720.3 L261.2,720.2 L262.2,720.4 L263.2,721.0 L264.2,721.9 L265.2,723.2 L267.2,726.6 L270.2,733.8 L273.2,743.2 L278.2,762.3 L289.2,809.5 L295.2,833.9 L301.2,855.6 L307.2,874.3 L312.2,887.5 L315.2,894.4 L318.2,900.7 L321.2,906.3 L324.2,911.4 L327.2,915.9 L331.2,921.1 L335.2,925.6 L339.2,929.5 L344.2,933.5 L349.2,936.8 L354.2,939.6 L360.2,942.4 L366.2,944.7 L373.2,946.9 L381.2,949.0 L389.2,950.7 L399.2,952.5 L409.2,953.9 L420.2,955.2 L433.2,956.5 L461.2,958.4" fill="none" stroke="#30c8d0" stroke-opacity="0.5" stroke-width="2.2"/>
<path d="M22.2,964.2 L302.2,964.2 L358.2,964.0 L368.2,963.6 L374.2,962.9 L378.2,961.8 L384.2,959.0 L386.2,958.4 L387.2,958.2 L388.2,958.2 L390.2,958.7 L396.2,961.5 L399.2,962.5 L402.2,963.1 L406.2,963.6 L421.2,964.0 L461.2,964.2 L461.20,976.60 L22.20,976.60 Z" fill="#9040b0" fill-opacity="0.38" stroke="none"/>
<path d="M22.2,964.2 L302.2,964.2 L358.2,964.0 L368.2,963.6 L374.2,962.9 L378.2,961.8 L384.2,959.0 L386.2,958.4 L387.2,958.2 L388.2,958.2 L390.2,958.7 L396.2,961.5 L399.2,962.5 L402.2,963.1 L406.2,963.6 L421.2,964.0 L461.2,964.2" fill="none" stroke="#9040b0" stroke-opacity="0.6" stroke-width="2.2"/>
<rect x="22.20" y="966.20" width="439.00" height="10.40" fill="#7e809b"/>
<path d="M22.2,958.4 L30.2,957.5 L37.2,956.3 L43.2,954.6 L47.2,952.8 L50.2,950.6 L52.2,948.6 L53.2,947.2 L55.2,943.7 L57.2,938.2 L58.2,934.1 L59.2,928.6 L60.2,921.2 L61.2,911.2 L62.2,897.9 L63.2,880.7 L66.2,815.3 L67.2,804.5 L68.2,809.1 L69.2,826.6 L71.2,871.6 L72.2,890.2 L73.2,904.7 L74.2,915.7 L75.2,923.8 L76.2,929.7 L77.2,933.9 L78.2,937.1 L79.2,939.5 L80.2,941.3 L82.2,943.8 L83.2,944.7 L85.2,945.9 L87.2,946.6 L89.2,946.9 L91.2,947.1 L94.2,946.9 L99.2,946.1 L105.2,944.2 L111.2,941.6 L117.2,938.3 L122.2,935.1 L127.2,931.3 L131.2,927.8 L137.2,921.7 L151.2,906.1 L158.2,899.0 L179.2,879.2 L192.2,867.7 L196.2,863.9 L200.2,859.4 L204.2,853.7 L208.2,847.0 L212.2,839.2 L226.2,809.3 L230.2,799.8 L234.2,788.7 L238.2,775.6 L241.2,764.4 L248.2,736.3 L252.2,722.7 L254.2,717.4 L256.2,713.4 L257.2,712.0 L258.2,711.0 L259.2,710.5 L260.2,710.5 L261.2,710.9 L262.2,711.7 L263.2,712.8 L265.2,716.2 L267.2,721.0 L270.2,730.1 L274.2,745.4 L281.2,775.6 L284.2,787.7 L291.2,814.1 L302.2,857.0 L305.2,867.9 L308.2,877.7 L312.2,888.6 L314.2,893.3 L317.2,899.4 L320.2,904.8 L323.2,909.6 L326.2,914.1 L330.2,919.3 L334.2,923.9 L338.2,928.0 L342.2,931.6 L346.2,934.8 L350.2,937.5 L355.2,940.2 L360.2,942.3 L364.2,943.7 L370.2,945.1 L375.2,945.6 L379.2,945.4 L385.2,944.2 L387.2,944.2 L388.2,944.5 L390.2,945.4 L396.2,949.2 L399.2,950.6 L402.2,951.7 L407.2,952.8 L418.2,954.6 L433.2,956.6 L445.2,957.7 L461.2,958.8" fill="none" stroke="#ff0000" stroke-width="1.5"/>
<line x1="22.2" y1="965.4" x2="461.2" y2="965.4" stroke="#7e5a9a" stroke-width="1.6"/>
<line x1="460.6" y1="964.2" x2="460.6" y2="976.6" stroke="#7e5a9a" stroke-width="1.4"/>
<line x1="22.20" y1="976.60" x2="469.80" y2="976.60" stroke="#000" stroke-width="2.4"/>
<line x1="22.20" y1="976.60" x2="22.20" y2="983.60" stroke="#000" stroke-width="2"/>
<text x="22.2" y="1008.6" font-size="28" fill="#000" text-anchor="middle" font-weight="normal" ><tspan dy="-0.00">700</tspan></text>
<line x1="96.79" y1="976.60" x2="96.79" y2="983.60" stroke="#000" stroke-width="2"/>
<text x="96.8" y="1008.6" font-size="28" fill="#000" text-anchor="middle" font-weight="normal" ><tspan dy="-0.00">600</tspan></text>
<line x1="171.38" y1="976.60" x2="171.38" y2="983.60" stroke="#000" stroke-width="2"/>
<text x="171.4" y="1008.6" font-size="28" fill="#000" text-anchor="middle" font-weight="normal" ><tspan dy="-0.00">500</tspan></text>
<line x1="245.97" y1="976.60" x2="245.97" y2="983.60" stroke="#000" stroke-width="2"/>
<text x="246.0" y="1008.6" font-size="28" fill="#000" text-anchor="middle" font-weight="normal" ><tspan dy="-0.00">400</tspan></text>
<line x1="320.56" y1="976.60" x2="320.56" y2="983.60" stroke="#000" stroke-width="2"/>
<text x="320.6" y="1008.6" font-size="28" fill="#000" text-anchor="middle" font-weight="normal" ><tspan dy="-0.00">300</tspan></text>
<line x1="395.15" y1="976.60" x2="395.15" y2="983.60" stroke="#000" stroke-width="2"/>
<text x="395.1" y="1008.6" font-size="28" fill="#000" text-anchor="middle" font-weight="normal" ><tspan dy="-0.00">200</tspan></text>
<line x1="469.74" y1="976.60" x2="469.74" y2="983.60" stroke="#000" stroke-width="2"/>
<text x="469.7" y="1008.6" font-size="28" fill="#000" text-anchor="middle" font-weight="normal" ><tspan dy="-0.00">100</tspan></text>
<line x1="59.50" y1="976.60" x2="59.50" y2="980.60" stroke="#000" stroke-width="1.6"/>
<line x1="134.09" y1="976.60" x2="134.09" y2="980.60" stroke="#000" stroke-width="1.6"/>
<line x1="208.67" y1="976.60" x2="208.67" y2="980.60" stroke="#000" stroke-width="1.6"/>
<line x1="283.26" y1="976.60" x2="283.26" y2="980.60" stroke="#000" stroke-width="1.6"/>
<line x1="357.86" y1="976.60" x2="357.86" y2="980.60" stroke="#000" stroke-width="1.6"/>
<line x1="432.44" y1="976.60" x2="432.44" y2="980.60" stroke="#000" stroke-width="1.6"/>
<text x="261.5" y="1042.3" font-size="28.7" fill="#000" text-anchor="middle" font-weight="normal" ><tspan dy="-0.00">Chemical shift </tspan><tspan dy="0.00" font-style="italic" font-family="'Liberation Serif', serif">δ</tspan><tspan dx="4.00" dy="0.00"> (ppm)</tspan></text>
<text x="537.0" y="603.8" font-size="41" fill="#000" text-anchor="start" font-weight="bold" ><tspan dy="-0.00">c</tspan></text>
<text x="617.5" y="602.6" font-size="34" fill="#00b0f0" text-anchor="start" font-weight="normal" ><tspan dy="-0.00" font-style="italic">δ</tspan><tspan dy="0.00"> = 401 ppm</tspan></text>
<text x="615.8" y="642.6" font-size="34" fill="#00b0f0" text-anchor="start" font-weight="normal" ><tspan dy="-0.00">Parent type, Mn</tspan><tspan dy="-10.20" font-size="22.27">2+</tspan><tspan dy="10.20"> only</tspan></text>
<text x="784.5" y="782.0" font-size="34" fill="#9b5dcd" text-anchor="start" font-weight="normal" ><tspan dy="-0.00" font-style="italic">δ</tspan><tspan dy="0.00"> = 209 ppm</tspan></text>
<text x="784.5" y="824.0" font-size="34" fill="#9b5dcd" text-anchor="start" font-weight="normal" ><tspan dy="-0.00">Sr</tspan><tspan dy="7.48" font-size="22.27">2</tspan><tspan dy="-7.48">MnO</tspan><tspan dy="7.48" font-size="22.27">2</tspan><tspan dy="-7.48">Li</tspan><tspan dy="7.48" font-size="22.27">4</tspan><tspan dy="-7.48">S</tspan><tspan dy="7.48" font-size="22.27">3</tspan></text>
<polygon points="744.1,655.2 756.6,655.2 756.6,685.2 761.9,685.2 750.4,697.8 738.9,685.2 744.1,685.2" fill="#00b0f0" />
<polygon points="886.1,840.2 897.9,840.2 897.9,895.5 903.6,895.5 892.0,907.0 880.4,895.5 886.1,895.5" fill="#9b5dcd" />
<path d="M534.6,962.4 L535.6,962.3 L536.6,960.8 L537.6,960.8 L540.6,964.6 L543.6,962.6 L544.6,960.7 L546.6,961.3 L547.6,963.4 L549.6,958.5 L550.6,957.1 L552.6,960.2 L554.6,961.8 L555.6,960.8 L556.6,961.1 L558.6,960.8 L559.6,962.1 L560.6,962.1 L561.6,963.9 L562.6,961.5 L564.6,958.5 L567.6,960.7 L568.6,960.3 L569.6,958.6 L570.6,957.8 L571.6,959.3 L572.6,959.3 L573.6,960.0 L575.6,958.3 L576.6,958.0 L577.6,958.8 L579.7,957.7 L580.7,956.2 L582.7,957.9 L583.7,957.8 L584.7,957.1 L585.7,957.3 L586.7,957.9 L587.7,960.1 L588.7,960.6 L590.7,959.2 L591.7,956.4 L592.7,956.5 L593.7,955.6 L594.7,956.3 L595.7,954.3 L597.7,953.6 L598.7,955.9 L601.7,952.5 L602.7,955.7 L603.7,957.5 L604.7,955.2 L605.7,951.2 L606.7,950.8 L608.7,952.9 L609.7,953.3 L611.7,956.0 L613.7,954.2 L614.7,955.4 L616.7,955.4 L617.7,954.1 L618.7,951.7 L620.7,952.4 L621.7,954.2 L622.7,950.7 L623.7,948.9 L628.7,949.1 L629.7,950.5 L630.7,949.8 L631.7,950.6 L632.7,949.0 L634.7,948.7 L635.7,949.2 L636.7,947.5 L638.7,946.2 L639.7,946.5 L641.7,945.1 L642.7,946.1 L643.7,946.2 L645.7,941.4 L646.7,941.3 L648.7,943.0 L649.7,941.6 L650.7,942.7 L651.7,939.5 L652.7,939.3 L653.7,938.1 L655.7,941.0 L658.7,937.3 L662.7,934.8 L665.8,933.4 L666.8,934.6 L668.8,931.7 L669.8,928.6 L670.8,927.4 L671.8,927.9 L673.8,926.6 L674.8,926.5 L677.8,918.4 L678.8,920.3 L679.8,920.6 L680.8,918.8 L683.8,915.5 L684.8,916.0 L686.8,913.5 L687.8,909.6 L688.8,907.7 L689.8,906.7 L690.8,902.6 L691.8,900.9 L693.8,900.2 L695.8,897.1 L696.8,897.3 L697.8,897.0 L700.8,885.4 L701.8,885.5 L702.8,884.7 L703.8,880.2 L704.8,878.3 L705.8,873.3 L706.8,874.1 L707.8,869.0 L708.8,867.9 L710.8,864.1 L714.8,851.3 L716.8,846.1 L718.8,839.9 L719.8,834.0 L720.8,831.3 L721.8,824.4 L725.8,809.6 L727.8,796.8 L730.8,784.0 L731.8,777.3 L734.8,770.0 L737.8,750.8 L739.8,745.3 L743.8,730.9 L744.8,724.2 L746.8,719.0 L747.8,717.9 L748.8,714.9 L749.8,713.8 L750.8,714.6 L751.9,712.3 L753.9,712.5 L754.9,715.2 L756.9,713.4 L757.9,714.4 L761.9,724.3 L762.9,724.8 L764.9,728.0 L765.9,734.7 L772.9,766.3 L775.9,782.4 L777.9,789.0 L778.9,789.9 L779.9,793.9 L780.9,795.4 L783.9,812.5 L784.9,815.3 L790.9,841.2 L792.9,846.9 L794.9,850.0 L795.9,854.2 L798.9,862.3 L800.9,870.6 L802.9,874.7 L803.9,875.9 L804.9,875.9 L805.9,877.3 L807.9,884.6 L808.9,886.3 L809.9,886.6 L810.9,887.6 L811.9,890.1 L812.9,891.5 L813.9,895.1 L814.9,894.5 L815.9,897.6 L816.9,898.1 L819.9,903.7 L820.9,904.7 L821.9,904.5 L822.9,906.3 L824.9,912.1 L826.9,915.9 L827.9,916.6 L828.9,918.2 L830.9,920.3 L831.9,917.9 L833.9,920.8 L834.9,923.5 L835.9,923.0 L836.9,924.4 L837.9,923.8 L841.0,928.3 L842.0,929.2 L843.0,929.4 L844.0,930.9 L845.0,931.4 L849.0,930.8 L850.0,933.1 L851.0,933.7 L852.0,933.7 L853.0,932.4 L854.0,932.5 L856.0,935.5 L857.0,935.4 L858.0,934.1 L861.0,940.9 L862.0,936.0 L863.0,935.8 L864.0,935.8 L865.0,940.3 L867.0,939.9 L868.0,938.9 L869.0,936.7 L870.0,938.0 L871.0,937.9 L872.0,939.2 L873.0,939.6 L874.0,941.2 L875.0,940.5 L877.0,937.0 L878.0,938.4 L879.0,938.4 L880.0,936.8 L882.0,938.8 L883.0,937.6 L884.0,933.0 L885.0,932.3 L886.0,932.8 L887.0,934.0 L890.0,923.4 L891.0,918.5 L893.0,915.4 L894.0,917.4 L895.0,917.7 L897.0,920.2 L899.0,926.5 L903.0,935.2 L904.0,936.8 L905.0,937.2 L908.0,943.0 L910.0,945.4 L911.0,946.0 L912.0,945.5 L913.0,946.5 L915.0,950.5 L917.0,950.2 L919.0,947.9 L920.0,947.9 L921.0,948.2 L922.0,951.1 L923.0,950.3 L925.0,947.4 L927.1,952.6 L928.1,952.5 L929.1,950.5 L931.1,953.6 L933.1,955.7 L935.1,955.9 L936.1,955.1 L938.1,957.1 L939.1,957.5 L940.1,954.8 L941.1,953.7 L942.1,953.4 L944.1,955.4 L945.1,955.3 L946.1,956.5 L947.1,955.3 L948.1,957.2 L950.1,957.7 L951.1,955.4 L952.1,956.8 L953.1,956.7 L954.1,957.5 L955.1,955.9 L956.1,956.2 L957.1,954.2 L958.1,953.3 L959.1,953.6 L960.1,955.8 L961.1,956.3 L964.1,955.3 L965.1,955.5 L967.1,953.9 L968.1,954.5 L969.1,953.4" fill="none" stroke="#000" stroke-width="1.8" stroke-linejoin="round"/>
<path d="M534.6,961.4 L550.6,960.4 L565.6,959.1 L578.7,957.8 L590.7,956.3 L601.7,954.7 L612.7,952.6 L621.7,950.6 L630.7,948.2 L638.7,945.6 L646.7,942.4 L653.7,939.1 L659.7,935.8 L665.8,931.9 L671.8,927.2 L676.8,922.7 L681.8,917.4 L685.8,912.6 L689.8,907.1 L693.8,900.9 L697.8,893.8 L701.8,885.7 L704.8,878.8 L707.8,871.3 L710.8,863.0 L713.8,853.8 L716.8,843.7 L722.8,820.9 L727.8,799.3 L738.8,748.5 L741.8,736.0 L743.8,728.7 L746.8,719.7 L748.8,715.3 L750.8,712.4 L751.9,711.6 L752.9,711.1 L753.9,711.0 L754.9,711.3 L755.9,712.0 L756.9,713.0 L758.9,716.1 L761.9,723.2 L764.9,732.6 L769.9,752.1 L780.9,800.4 L785.9,820.8 L791.9,842.5 L794.9,852.2 L797.9,861.0 L800.9,869.1 L803.9,876.4 L806.9,883.1 L810.9,891.2 L814.9,898.2 L818.9,904.5 L822.9,910.0 L826.9,914.8 L831.9,920.2 L836.9,924.8 L843.0,929.6 L849.0,933.6 L855.0,937.1 L862.0,940.6 L869.0,943.5 L877.0,946.3 L885.0,948.7 L894.0,950.9 L904.0,953.0 L915.0,954.9 L927.1,956.5 L940.1,958.0 L954.1,959.3 L969.1,960.5 L969.10,978.00 L534.60,978.00 Z" fill="#30c8d0" fill-opacity="0.3" stroke="none"/>
<path d="M534.6,961.4 L550.6,960.4 L565.6,959.1 L578.7,957.8 L590.7,956.3 L601.7,954.7 L612.7,952.6 L621.7,950.6 L630.7,948.2 L638.7,945.6 L646.7,942.4 L653.7,939.1 L659.7,935.8 L665.8,931.9 L671.8,927.2 L676.8,922.7 L681.8,917.4 L685.8,912.6 L689.8,907.1 L693.8,900.9 L697.8,893.8 L701.8,885.7 L704.8,878.8 L707.8,871.3 L710.8,863.0 L713.8,853.8 L716.8,843.7 L722.8,820.9 L727.8,799.3 L738.8,748.5 L741.8,736.0 L743.8,728.7 L746.8,719.7 L748.8,715.3 L750.8,712.4 L751.9,711.6 L752.9,711.1 L753.9,711.0 L754.9,711.3 L755.9,712.0 L756.9,713.0 L758.9,716.1 L761.9,723.2 L764.9,732.6 L769.9,752.1 L780.9,800.4 L785.9,820.8 L791.9,842.5 L794.9,852.2 L797.9,861.0 L800.9,869.1 L803.9,876.4 L806.9,883.1 L810.9,891.2 L814.9,898.2 L818.9,904.5 L822.9,910.0 L826.9,914.8 L831.9,920.2 L836.9,924.8 L843.0,929.6 L849.0,933.6 L855.0,937.1 L862.0,940.6 L869.0,943.5 L877.0,946.3 L885.0,948.7 L894.0,950.9 L904.0,953.0 L915.0,954.9 L927.1,956.5 L940.1,958.0 L954.1,959.3 L969.1,960.5" fill="none" stroke="#30c8d0" stroke-opacity="0.5" stroke-width="2.2"/>
<path d="M534.6,968.0 L797.9,967.7 L836.9,967.3 L849.0,966.9 L858.0,966.3 L865.0,965.5 L871.0,964.2 L875.0,962.7 L877.0,961.6 L879.0,960.1 L882.0,957.0 L884.0,954.1 L887.0,948.4 L891.0,939.4 L892.0,937.5 L893.0,936.1 L894.0,935.5 L895.0,935.5 L896.0,936.4 L897.0,937.9 L903.0,951.0 L906.0,956.0 L908.0,958.4 L910.0,960.3 L912.0,961.7 L915.0,963.2 L918.0,964.3 L922.0,965.2 L927.1,965.9 L932.1,966.4 L947.1,967.2 L969.1,967.6 L969.10,978.00 L534.60,978.00 Z" fill="#9040b0" fill-opacity="0.38" stroke="none"/>
<path d="M534.6,968.0 L797.9,967.7 L836.9,967.3 L849.0,966.9 L858.0,966.3 L865.0,965.5 L871.0,964.2 L875.0,962.7 L877.0,961.6 L879.0,960.1 L882.0,957.0 L884.0,954.1 L887.0,948.4 L891.0,939.4 L892.0,937.5 L893.0,936.1 L894.0,935.5 L895.0,935.5 L896.0,936.4 L897.0,937.9 L903.0,951.0 L906.0,956.0 L908.0,958.4 L910.0,960.3 L912.0,961.7 L915.0,963.2 L918.0,964.3 L922.0,965.2 L927.1,965.9 L932.1,966.4 L947.1,967.2 L969.1,967.6" fill="none" stroke="#9040b0" stroke-opacity="0.6" stroke-width="2.2"/>
<rect x="534.60" y="969.60" width="434.50" height="8.40" fill="#a8a8d2"/>
<path d="M534.6,961.4 L550.6,960.3 L565.6,959.1 L578.7,957.8 L590.7,956.3 L601.7,954.6 L612.7,952.6 L621.7,950.6 L630.7,948.1 L638.7,945.5 L646.7,942.4 L653.7,939.1 L659.7,935.7 L665.8,931.8 L671.8,927.2 L676.8,922.6 L681.8,917.4 L685.8,912.6 L689.8,907.1 L693.8,900.8 L697.8,893.7 L701.8,885.6 L704.8,878.8 L707.8,871.2 L710.8,862.9 L713.8,853.7 L716.8,843.7 L722.8,820.8 L727.8,799.2 L738.8,748.4 L741.8,735.9 L743.8,728.6 L746.8,719.6 L748.8,715.2 L750.8,712.3 L751.9,711.4 L752.9,711.0 L753.9,710.9 L754.9,711.2 L755.9,711.9 L756.9,712.9 L758.9,716.0 L761.9,723.0 L764.9,732.5 L769.9,752.0 L779.9,795.9 L785.9,820.6 L791.9,842.3 L794.9,851.9 L797.9,860.8 L800.9,868.8 L803.9,876.2 L806.9,882.8 L810.9,890.8 L813.9,896.2 L817.9,902.6 L821.9,908.2 L825.9,913.2 L830.9,918.6 L835.9,923.3 L842.0,928.0 L848.0,931.9 L854.0,935.2 L860.0,937.8 L866.0,939.6 L871.0,940.4 L874.0,940.4 L877.0,939.9 L880.0,938.4 L882.0,936.8 L884.0,934.5 L886.0,931.5 L891.0,921.6 L892.0,919.9 L893.0,918.8 L894.0,918.4 L895.0,918.7 L896.0,919.7 L897.0,921.4 L903.0,935.8 L906.0,941.3 L908.0,944.1 L910.0,946.3 L912.0,948.1 L915.0,950.1 L919.0,952.0 L923.0,953.4 L928.1,954.7 L934.1,955.9 L949.1,958.1 L969.1,960.0" fill="none" stroke="#ff0000" stroke-width="1.6"/>
<line x1="534.6" y1="969.0" x2="969.1" y2="969.0" stroke="#9b78be" stroke-width="1.6"/>
<line x1="968.5" y1="964.0" x2="968.5" y2="978.0" stroke="#9b78be" stroke-width="1.4"/>
<line x1="533.90" y1="978.00" x2="975.50" y2="978.00" stroke="#000" stroke-width="2.4"/>
<line x1="533.90" y1="978.00" x2="533.90" y2="985.00" stroke="#000" stroke-width="2"/>
<text x="533.9" y="1008.8" font-size="28" fill="#000" text-anchor="middle" font-weight="normal" ><tspan dy="-0.00">700</tspan></text>
<line x1="607.50" y1="978.00" x2="607.50" y2="985.00" stroke="#000" stroke-width="2"/>
<text x="607.5" y="1008.8" font-size="28" fill="#000" text-anchor="middle" font-weight="normal" ><tspan dy="-0.00">600</tspan></text>
<line x1="681.10" y1="978.00" x2="681.10" y2="985.00" stroke="#000" stroke-width="2"/>
<text x="681.1" y="1008.8" font-size="28" fill="#000" text-anchor="middle" font-weight="normal" ><tspan dy="-0.00">500</tspan></text>
<line x1="754.70" y1="978.00" x2="754.70" y2="985.00" stroke="#000" stroke-width="2"/>
<text x="754.7" y="1008.8" font-size="28" fill="#000" text-anchor="middle" font-weight="normal" ><tspan dy="-0.00">400</tspan></text>
<line x1="828.30" y1="978.00" x2="828.30" y2="985.00" stroke="#000" stroke-width="2"/>
<text x="828.3" y="1008.8" font-size="28" fill="#000" text-anchor="middle" font-weight="normal" ><tspan dy="-0.00">300</tspan></text>
<line x1="901.90" y1="978.00" x2="901.90" y2="985.00" stroke="#000" stroke-width="2"/>
<text x="901.9" y="1008.8" font-size="28" fill="#000" text-anchor="middle" font-weight="normal" ><tspan dy="-0.00">200</tspan></text>
<line x1="975.50" y1="978.00" x2="975.50" y2="985.00" stroke="#000" stroke-width="2"/>
<text x="975.5" y="1008.8" font-size="28" fill="#000" text-anchor="middle" font-weight="normal" ><tspan dy="-0.00">100</tspan></text>
<line x1="570.70" y1="978.00" x2="570.70" y2="982.00" stroke="#000" stroke-width="1.6"/>
<line x1="644.30" y1="978.00" x2="644.30" y2="982.00" stroke="#000" stroke-width="1.6"/>
<line x1="717.90" y1="978.00" x2="717.90" y2="982.00" stroke="#000" stroke-width="1.6"/>
<line x1="791.50" y1="978.00" x2="791.50" y2="982.00" stroke="#000" stroke-width="1.6"/>
<line x1="865.10" y1="978.00" x2="865.10" y2="982.00" stroke="#000" stroke-width="1.6"/>
<line x1="938.70" y1="978.00" x2="938.70" y2="982.00" stroke="#000" stroke-width="1.6"/>
<text x="767.5" y="1043.0" font-size="28.4" fill="#000" text-anchor="middle" font-weight="normal" ><tspan dy="-0.00">Chemical shift </tspan><tspan dy="0.00" font-style="italic" font-family="'Liberation Serif', serif">δ</tspan><tspan dx="4.00" dy="0.00"> (ppm)</tspan></text>
<text x="23.5" y="1106.5" font-size="41" fill="#000" text-anchor="start" font-weight="bold" ><tspan dy="-0.00">d</tspan></text>
<text x="105.0" y="1132.6" font-size="34" fill="#000" text-anchor="start" font-weight="normal" ><tspan dy="-0.00">Parent type</tspan></text>
<text x="406.5" y="1132.0" font-size="34" fill="#000" text-anchor="start" font-weight="normal" ><tspan dy="-0.00">1:2 intergrowth</tspan></text>
<text x="734.5" y="1130.9" font-size="34" fill="#000" text-anchor="start" font-weight="normal" ><tspan dy="-0.00">1:1 intergrowth</tspan></text>
<polygon points="168.7,1164.8 228.2,1160.9 228.2,1173.1 222.7,1213.3 201.7,1224.9 165.3,1210.5 159.3,1176.4" fill="#e6e4a8" fill-opacity="0.9"/>
<polygon points="159.3,1176.4 193.7,1193.5 201.7,1224.9 165.3,1210.5" fill="#cfcc98" fill-opacity="0.9"/>
<line x1="193.7" y1="1193.5" x2="155.4" y2="1165.1" stroke="#eaa814" stroke-width="2.2"/>
<line x1="193.7" y1="1193.5" x2="230.9" y2="1159.6" stroke="#eaa814" stroke-width="2.2"/>
<line x1="193.7" y1="1193.5" x2="168.9" y2="1222.1" stroke="#eaa814" stroke-width="2.2"/>
<line x1="193.7" y1="1193.5" x2="219.6" y2="1227.1" stroke="#eaa814" stroke-width="2.2"/>
<circle cx="155.4" cy="1165.1" r="12.6" fill="url(#gS)"/>
<circle cx="230.9" cy="1159.6" r="12.6" fill="url(#gS)"/>
<circle cx="168.9" cy="1222.1" r="12.6" fill="url(#gS)"/>
<circle cx="219.6" cy="1227.1" r="12.6" fill="url(#gS)"/>
<circle cx="193.7" cy="1193.5" r="8.6" fill="url(#gLi)"/>
<line x1="169.2" y1="1236.0" x2="169.6" y2="1279.0" stroke="#000" stroke-width="2.2" stroke-dasharray="6,4.5"/>
<line x1="220.6" y1="1241.0" x2="221.2" y2="1284.0" stroke="#000" stroke-width="2.2" stroke-dasharray="6,4.5"/>
<line x1="169.8" y1="1287.1" x2="171.4" y2="1353.4" stroke="#111" stroke-width="4.2"/>
<line x1="221.6" y1="1292.1" x2="222.9" y2="1359.1" stroke="#111" stroke-width="4.2"/>
<line x1="169.8" y1="1287.1" x2="195.7" y2="1289.9" stroke="#d08a18" stroke-width="1.9"/>
<line x1="195.7" y1="1289.9" x2="221.6" y2="1292.1" stroke="#d08a18" stroke-width="1.9"/>
<circle cx="169.8" cy="1287.1" r="7.8" fill="url(#gMn)"/>
<circle cx="195.7" cy="1289.9" r="8.0" fill="url(#gO)"/>
<circle cx="221.6" cy="1292.1" r="7.8" fill="url(#gMn)"/>
<line x1="161.5" y1="1418.7" x2="161.5" y2="1486.4" stroke="#111" stroke-width="4.2"/>
<line x1="235.7" y1="1415.2" x2="237.1" y2="1481.2" stroke="#111" stroke-width="4.2"/>
<polygon points="167.9,1362.1 182.9,1355.1 211.9,1357.1 225.9,1372.1 233.9,1402.1 227.9,1415.1 174.9,1420.1 162.9,1407.1" fill="#e6e4a8" fill-opacity="0.9"/>
<line x1="197.9" y1="1387.1" x2="171.4" y2="1353.4" stroke="#2a2810" stroke-width="4.2"/>
<line x1="197.9" y1="1387.1" x2="222.9" y2="1359.1" stroke="#2a2810" stroke-width="4.2"/>
<line x1="197.9" y1="1387.1" x2="161.5" y2="1418.7" stroke="#2a2810" stroke-width="4.2"/>
<line x1="197.9" y1="1387.1" x2="235.7" y2="1415.2" stroke="#2a2810" stroke-width="4.2"/>
<circle cx="171.4" cy="1353.4" r="12.6" fill="url(#gS)"/>
<circle cx="222.9" cy="1359.1" r="12.6" fill="url(#gS)"/>
<circle cx="161.5" cy="1418.7" r="12.6" fill="url(#gS)"/>
<circle cx="235.7" cy="1415.2" r="12.6" fill="url(#gS)"/>
<circle cx="197.9" cy="1387.1" r="8.6" fill="url(#gLi)"/>
<line x1="161.5" y1="1486.4" x2="200.1" y2="1483.8" stroke="#d08a18" stroke-width="1.9"/>
<line x1="200.1" y1="1483.8" x2="237.1" y2="1481.2" stroke="#d08a18" stroke-width="1.9"/>
<circle cx="161.5" cy="1486.4" r="7.8" fill="url(#gMn)"/>
<circle cx="200.1" cy="1483.8" r="8.0" fill="url(#gO)"/>
<circle cx="237.1" cy="1481.2" r="7.8" fill="url(#gMn)"/>
<line x1="162.3" y1="1495.0" x2="163.2" y2="1540.0" stroke="#000" stroke-width="2.2" stroke-dasharray="6,4.5"/>
<line x1="237.6" y1="1490.0" x2="238.3" y2="1534.0" stroke="#000" stroke-width="2.2" stroke-dasharray="6,4.5"/>
<polygon points="175.0,1553.0 236.0,1549.0 231.0,1603.0 210.0,1614.0 172.0,1600.0 166.0,1562.0" fill="#e6e4a8" fill-opacity="0.9"/>
<polygon points="166.0,1562.0 201.9,1581.0 210.0,1614.0 172.0,1600.0" fill="#cfcc98" fill-opacity="0.9"/>
<line x1="201.9" y1="1581.0" x2="163.6" y2="1552.9" stroke="#eaa814" stroke-width="2.2"/>
<line x1="201.9" y1="1581.0" x2="238.4" y2="1546.4" stroke="#eaa814" stroke-width="2.2"/>
<line x1="201.9" y1="1581.0" x2="177.2" y2="1608.9" stroke="#eaa814" stroke-width="2.2"/>
<line x1="201.9" y1="1581.0" x2="228.0" y2="1614.1" stroke="#eaa814" stroke-width="2.2"/>
<circle cx="163.6" cy="1552.9" r="12.6" fill="url(#gS)"/>
<circle cx="238.4" cy="1546.4" r="12.6" fill="url(#gS)"/>
<circle cx="177.2" cy="1608.9" r="12.6" fill="url(#gS)"/>
<circle cx="228.0" cy="1614.1" r="12.6" fill="url(#gS)"/>
<circle cx="201.9" cy="1581.0" r="8.6" fill="url(#gLi)"/>
<polygon points="497.0,1168.0 558.0,1165.0 558.0,1178.0 553.0,1218.0 533.0,1229.0 497.0,1214.0 491.0,1180.0" fill="#e6e4a8" fill-opacity="0.9"/>
<polygon points="491.0,1180.0 525.0,1198.2 533.0,1229.0 497.0,1214.0" fill="#cfcc98" fill-opacity="0.9"/>
<line x1="525.0" y1="1198.2" x2="485.7" y2="1170.2" stroke="#eaa814" stroke-width="2.2"/>
<line x1="525.0" y1="1198.2" x2="561.8" y2="1164.1" stroke="#eaa814" stroke-width="2.2"/>
<line x1="525.0" y1="1198.2" x2="499.3" y2="1226.3" stroke="#eaa814" stroke-width="2.2"/>
<line x1="525.0" y1="1198.2" x2="551.4" y2="1231.1" stroke="#eaa814" stroke-width="2.2"/>
<circle cx="485.7" cy="1170.2" r="12.6" fill="url(#gS)"/>
<circle cx="561.8" cy="1164.1" r="12.6" fill="url(#gS)"/>
<circle cx="499.3" cy="1226.3" r="12.6" fill="url(#gS)"/>
<circle cx="551.4" cy="1231.1" r="12.6" fill="url(#gS)"/>
<circle cx="525.0" cy="1198.2" r="8.6" fill="url(#gLi)"/>
<line x1="499.6" y1="1240.0" x2="500.6" y2="1284.0" stroke="#000" stroke-width="2.2" stroke-dasharray="6,4.5"/>
<line x1="551.6" y1="1245.0" x2="552.3" y2="1289.0" stroke="#000" stroke-width="2.2" stroke-dasharray="6,4.5"/>
<line x1="501.3" y1="1292.4" x2="502.4" y2="1358.4" stroke="#111" stroke-width="4.2"/>
<line x1="552.6" y1="1297.6" x2="554.0" y2="1364.1" stroke="#111" stroke-width="4.2"/>
<line x1="501.3" y1="1292.4" x2="526.5" y2="1295.6" stroke="#d08a18" stroke-width="1.9"/>
<line x1="526.5" y1="1295.6" x2="552.6" y2="1297.6" stroke="#d08a18" stroke-width="1.9"/>
<circle cx="501.3" cy="1292.4" r="7.8" fill="url(#gMn)"/>
<circle cx="526.5" cy="1295.6" r="8.0" fill="url(#gO)"/>
<circle cx="552.6" cy="1297.6" r="7.8" fill="url(#gMn)"/>
<line x1="491.9" y1="1426.0" x2="493.2" y2="1492.0" stroke="#111" stroke-width="4.2"/>
<line x1="567.0" y1="1420.1" x2="569.0" y2="1486.5" stroke="#111" stroke-width="4.2"/>
<polygon points="499.3,1367.1 514.3,1360.1 543.3,1362.1 557.3,1377.1 565.3,1407.1 559.3,1420.1 506.3,1425.1 494.3,1412.1" fill="#e6e4a8" fill-opacity="0.9"/>
<line x1="529.3" y1="1392.1" x2="502.4" y2="1358.4" stroke="#2a2810" stroke-width="4.2"/>
<line x1="529.3" y1="1392.1" x2="554.0" y2="1364.1" stroke="#2a2810" stroke-width="4.2"/>
<line x1="529.3" y1="1392.1" x2="491.9" y2="1426.0" stroke="#2a2810" stroke-width="4.2"/>
<line x1="529.3" y1="1392.1" x2="567.0" y2="1420.1" stroke="#2a2810" stroke-width="4.2"/>
<circle cx="502.4" cy="1358.4" r="12.6" fill="url(#gS)"/>
<circle cx="554.0" cy="1364.1" r="12.6" fill="url(#gS)"/>
<circle cx="491.9" cy="1426.0" r="12.6" fill="url(#gS)"/>
<circle cx="567.0" cy="1420.1" r="12.6" fill="url(#gS)"/>
<circle cx="529.3" cy="1392.1" r="8.6" fill="url(#gLi)"/>
<line x1="493.2" y1="1492.0" x2="530.6" y2="1489.1" stroke="#d08a18" stroke-width="1.9"/>
<line x1="530.6" y1="1489.1" x2="569.0" y2="1486.5" stroke="#d08a18" stroke-width="1.9"/>
<circle cx="493.2" cy="1492.0" r="7.8" fill="url(#gMn)"/>
<circle cx="530.6" cy="1489.1" r="8.0" fill="url(#gO)"/>
<circle cx="569.0" cy="1486.5" r="7.8" fill="url(#gMn)"/>
<line x1="493.2" y1="1499.0" x2="492.6" y2="1542.0" stroke="#000" stroke-width="2.2" stroke-dasharray="6,4.5"/>
<line x1="568.5" y1="1494.0" x2="567.9" y2="1539.0" stroke="#000" stroke-width="2.2" stroke-dasharray="6,4.5"/>
<line x1="492.5" y1="1555.0" x2="469.6" y2="1602.2" stroke="#eaa814" stroke-width="2.0"/>
<line x1="567.8" y1="1551.7" x2="545.8" y2="1599.0" stroke="#eaa814" stroke-width="2.0"/>
<circle cx="492.5" cy="1555.0" r="12.6" fill="url(#gS)"/>
<circle cx="469.6" cy="1602.2" r="12.6" fill="url(#gS)"/>
<circle cx="567.8" cy="1551.7" r="12.6" fill="url(#gS)"/>
<circle cx="545.8" cy="1599.0" r="12.6" fill="url(#gS)"/>
<line x1="855.7" y1="1177.9" x2="833.3" y2="1224.9" stroke="#eaa814" stroke-width="2.0"/>
<line x1="906.8" y1="1185.3" x2="883.5" y2="1232.3" stroke="#eaa814" stroke-width="2.0"/>
<circle cx="855.7" cy="1177.9" r="12.6" fill="url(#gS)"/>
<circle cx="833.3" cy="1224.9" r="12.6" fill="url(#gS)"/>
<circle cx="906.8" cy="1185.3" r="12.6" fill="url(#gS)"/>
<circle cx="883.5" cy="1232.3" r="12.6" fill="url(#gS)"/>
<line x1="833.2" y1="1238.0" x2="832.5" y2="1282.0" stroke="#000" stroke-width="2.2" stroke-dasharray="6,4.5"/>
<line x1="883.5" y1="1245.0" x2="883.5" y2="1289.0" stroke="#000" stroke-width="2.2" stroke-dasharray="6,4.5"/>
<line x1="832.4" y1="1290.3" x2="832.4" y2="1356.6" stroke="#111" stroke-width="4.2"/>
<line x1="883.5" y1="1297.7" x2="883.5" y2="1363.1" stroke="#111" stroke-width="4.2"/>
<line x1="832.4" y1="1290.3" x2="857.8" y2="1294.4" stroke="#d08a18" stroke-width="1.9"/>
<line x1="857.8" y1="1294.4" x2="883.5" y2="1297.7" stroke="#d08a18" stroke-width="1.9"/>
<circle cx="832.4" cy="1290.3" r="7.8" fill="url(#gMn)"/>
<circle cx="857.8" cy="1294.4" r="8.0" fill="url(#gO)"/>
<circle cx="883.5" cy="1297.7" r="7.8" fill="url(#gMn)"/>
<line x1="819.8" y1="1423.2" x2="819.8" y2="1489.8" stroke="#111" stroke-width="4.2"/>
<line x1="895.8" y1="1420.3" x2="895.8" y2="1485.7" stroke="#111" stroke-width="4.2"/>
<polygon points="827.8,1366.7 842.8,1359.7 871.8,1361.7 885.8,1376.7 893.8,1406.7 887.8,1419.7 834.8,1424.7 822.8,1411.7" fill="#e6e4a8" fill-opacity="0.9"/>
<line x1="857.8" y1="1391.7" x2="832.4" y2="1356.6" stroke="#2a2810" stroke-width="4.2"/>
<line x1="857.8" y1="1391.7" x2="883.5" y2="1363.1" stroke="#2a2810" stroke-width="4.2"/>
<line x1="857.8" y1="1391.7" x2="819.8" y2="1423.2" stroke="#2a2810" stroke-width="4.2"/>
<line x1="857.8" y1="1391.7" x2="895.8" y2="1420.3" stroke="#2a2810" stroke-width="4.2"/>
<circle cx="832.4" cy="1356.6" r="12.6" fill="url(#gS)"/>
<circle cx="883.5" cy="1363.1" r="12.6" fill="url(#gS)"/>
<circle cx="819.8" cy="1423.2" r="12.6" fill="url(#gS)"/>
<circle cx="895.8" cy="1420.3" r="12.6" fill="url(#gS)"/>
<circle cx="857.8" cy="1391.7" r="8.6" fill="url(#gLi)"/>
<line x1="819.8" y1="1489.8" x2="857.8" y2="1488.6" stroke="#d08a18" stroke-width="1.9"/>
<line x1="857.8" y1="1488.6" x2="895.8" y2="1485.7" stroke="#d08a18" stroke-width="1.9"/>
<circle cx="819.8" cy="1489.8" r="7.8" fill="url(#gMn)"/>
<circle cx="857.8" cy="1488.6" r="8.0" fill="url(#gO)"/>
<circle cx="895.8" cy="1485.7" r="7.8" fill="url(#gMn)"/>
<line x1="819.8" y1="1498.0" x2="819.1" y2="1542.0" stroke="#000" stroke-width="2.2" stroke-dasharray="6,4.5"/>
<line x1="895.7" y1="1494.0" x2="894.8" y2="1539.0" stroke="#000" stroke-width="2.2" stroke-dasharray="6,4.5"/>
<line x1="819.0" y1="1555.2" x2="796.5" y2="1601.9" stroke="#eaa814" stroke-width="2.0"/>
<line x1="894.6" y1="1552.0" x2="872.1" y2="1598.2" stroke="#eaa814" stroke-width="2.0"/>
<circle cx="819.0" cy="1555.2" r="12.6" fill="url(#gS)"/>
<circle cx="796.5" cy="1601.9" r="12.6" fill="url(#gS)"/>
<circle cx="894.6" cy="1552.0" r="12.6" fill="url(#gS)"/>
<circle cx="872.1" cy="1598.2" r="12.6" fill="url(#gS)"/>
<text x="14.8" y="1284.4" font-size="34" fill="#0b2466" text-anchor="start" font-weight="normal" ><tspan dy="-0.00">Mn</tspan><tspan dy="-10.20" font-size="22.27">2+/3+</tspan></text>
<line x1="100.2" y1="1284.5" x2="137.3" y2="1284.5" stroke="#0b2466" stroke-width="3.2"/>
<polygon points="153.3,1284.5 136.3,1293.0 136.3,1276.0" fill="#0b2466" />
<text x="23.5" y="1337.2" font-size="34" fill="#bf9000" text-anchor="start" font-weight="normal" ><tspan dy="-0.00">S</tspan><tspan dy="-10.20" font-size="22.27">2-</tspan></text>
<line x1="79.2" y1="1323.1" x2="137.8" y2="1338.5" stroke="#bf9000" stroke-width="3.2"/>
<polygon points="153.3,1342.6 134.7,1346.5 139.0,1330.1" fill="#bf9000" />
<text x="31.0" y="1395.9" font-size="34" fill="#00b0f0" text-anchor="start" font-weight="normal" ><tspan dy="-0.00">Li</tspan><tspan dy="-10.20" font-size="22.27">+</tspan></text>
<line x1="79.8" y1="1386.3" x2="159.4" y2="1386.3" stroke="#00b0f0" stroke-width="3.2"/>
<polygon points="175.4,1386.3 158.4,1394.8 158.4,1377.8" fill="#00b0f0" />
<text x="22.5" y="1477.8" font-size="34" fill="#ee0000" text-anchor="start" font-weight="normal" ><tspan dy="-0.00">O</tspan><tspan dy="-10.20" font-size="22.27">2-</tspan></text>
<line x1="79.5" y1="1464.3" x2="169.6" y2="1472.0" stroke="#ee0000" stroke-width="3.2"/>
<polygon points="185.5,1473.4 167.8,1480.4 169.3,1463.5" fill="#ee0000" />
<text x="23.0" y="1569.8" font-size="34" fill="#00b0f0" text-anchor="start" font-weight="normal" ><tspan dy="-0.00">Li</tspan><tspan dy="-10.20" font-size="22.27">+</tspan><tspan dx="-3.00" dy="10.20"> or</tspan></text>
<text x="22.5" y="1610.2" font-size="34" fill="#00b0f0" text-anchor="start" font-weight="normal" ><tspan dy="-0.00">Cu</tspan><tspan dy="-10.20" font-size="22.27">+</tspan></text>
<line x1="114.1" y1="1579.5" x2="170.3" y2="1579.5" stroke="#00b0f0" stroke-width="3.2"/>
<polygon points="186.3,1579.5 169.3,1588.0 169.3,1571.0" fill="#00b0f0" />
<text x="439.7" y="1266.4" font-size="34" fill="#000" text-anchor="end" font-weight="normal" ><tspan dy="-0.00">Symmetric</tspan></text>
<text x="439.7" y="1306.4" font-size="34" fill="#000" text-anchor="end" font-weight="normal" ><tspan dy="-0.00">S−Mn−S</tspan></text>
<text x="439.7" y="1346.5" font-size="34" fill="#000" text-anchor="end" font-weight="normal" ><tspan dy="-0.00">coordination</tspan></text>
<path d="M474.9,1260.2 L469.5,1260.2 Q467.3,1260.2 467.3,1262.4 L467.3,1327.9 Q467.3,1330.1 469.5,1330.1 L474.9,1330.1 M467.3,1295.0 L459.3,1295.0" fill="none" stroke="#000" stroke-width="2.5" stroke-linejoin="round"/>
<text x="697.5" y="1462.9" font-size="34" fill="#000" text-anchor="middle" font-weight="normal" ><tspan dy="-0.00">Asymmetric</tspan></text>
<text x="697.5" y="1502.9" font-size="34" fill="#000" text-anchor="middle" font-weight="normal" ><tspan dy="-0.00">S−Mn−S</tspan></text>
<text x="697.5" y="1543.0" font-size="34" fill="#000" text-anchor="middle" font-weight="normal" ><tspan dy="-0.00">coordination</tspan></text>
<path d="M589.6,1458.0 L595.0,1458.0 Q597.2,1458.0 597.2,1460.2 L597.2,1524.6 Q597.2,1526.8 595.0,1526.8 L589.6,1526.8 M597.2,1492.5 L605.2,1492.5" fill="none" stroke="#000" stroke-width="2.5" stroke-linejoin="round"/>
<path d="M801.7,1458.5 L796.3,1458.5 Q794.1,1458.5 794.1,1460.7 L794.1,1524.0 Q794.1,1526.2 796.3,1526.2 L801.7,1526.2 M794.1,1492.8 L786.1,1492.8" fill="none" stroke="#000" stroke-width="2.5" stroke-linejoin="round"/>
<text x="325.5" y="1581.0" font-size="34" fill="#bf9000" text-anchor="start" font-weight="normal" ><tspan dy="-0.00">[S</tspan><tspan dy="7.48" font-size="22.27">2</tspan><tspan dy="-7.48">]</tspan><tspan dy="-10.20" font-size="22.27">2-</tspan></text>
<text x="326.0" y="1615.0" font-size="34" fill="#bf9000" text-anchor="start" font-weight="normal" ><tspan dy="-0.00">dimer</tspan></text>
<path d="M441.1,1545.8 L435.7,1545.8 Q433.5,1545.8 433.5,1548.0 L433.5,1612.1 Q433.5,1614.3 435.7,1614.3 L441.1,1614.3 M433.5,1580.0 L426.3,1580.0" fill="none" stroke="#bf9000" stroke-width="2.5" stroke-linejoin="round"/>
</svg></body></html>
